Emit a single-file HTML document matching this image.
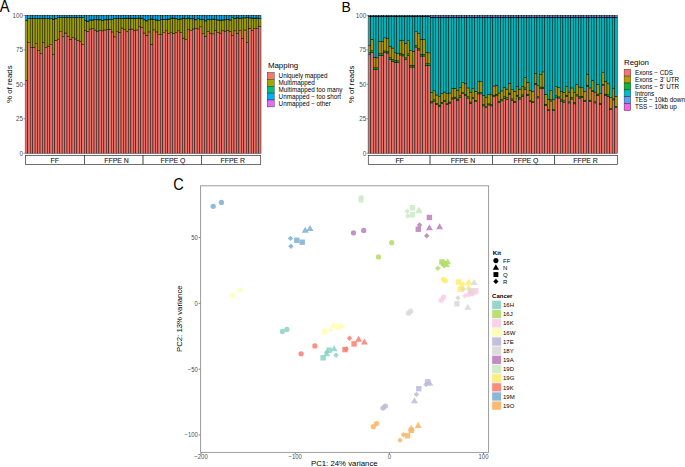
<!DOCTYPE html>
<html><head><meta charset="utf-8"><style>
html,body{margin:0;padding:0;background:#fff;}
svg{display:block;font-family:"Liberation Sans", sans-serif;}
</style></head><body>
<svg width="685" height="467" viewBox="0 0 685 467">
<rect width="685" height="467" fill="#fff"/>
<g stroke="#000" stroke-width="0.45">
<rect x="25.30" y="80.30" width="2.455" height="72.90" fill="#EC7068"/>
<rect x="25.30" y="20.36" width="2.455" height="59.94" fill="#9B9D00"/>
<rect x="25.30" y="20.15" width="2.455" height="0.21" fill="#00B577"/>
<rect x="25.30" y="15.40" width="2.455" height="4.75" fill="#00A7EA"/>
<rect x="27.76" y="42.55" width="2.455" height="110.65" fill="#EC7068"/>
<rect x="27.76" y="18.71" width="2.455" height="23.84" fill="#9B9D00"/>
<rect x="27.76" y="18.50" width="2.455" height="0.21" fill="#00B577"/>
<rect x="27.76" y="15.40" width="2.455" height="3.10" fill="#00A7EA"/>
<rect x="30.21" y="47.65" width="2.455" height="105.55" fill="#EC7068"/>
<rect x="30.21" y="18.71" width="2.455" height="28.94" fill="#9B9D00"/>
<rect x="30.21" y="18.50" width="2.455" height="0.21" fill="#00B577"/>
<rect x="30.21" y="15.40" width="2.455" height="3.10" fill="#00A7EA"/>
<rect x="32.67" y="47.37" width="2.455" height="105.83" fill="#EC7068"/>
<rect x="32.67" y="18.71" width="2.455" height="28.66" fill="#9B9D00"/>
<rect x="32.67" y="18.50" width="2.455" height="0.21" fill="#00B577"/>
<rect x="32.67" y="15.40" width="2.455" height="3.10" fill="#00A7EA"/>
<rect x="35.12" y="43.51" width="2.455" height="109.69" fill="#EC7068"/>
<rect x="35.12" y="18.71" width="2.455" height="24.80" fill="#9B9D00"/>
<rect x="35.12" y="18.50" width="2.455" height="0.21" fill="#00B577"/>
<rect x="35.12" y="15.40" width="2.455" height="3.10" fill="#00A7EA"/>
<rect x="37.58" y="50.54" width="2.455" height="102.66" fill="#EC7068"/>
<rect x="37.58" y="18.71" width="2.455" height="31.83" fill="#9B9D00"/>
<rect x="37.58" y="18.50" width="2.455" height="0.21" fill="#00B577"/>
<rect x="37.58" y="15.40" width="2.455" height="3.10" fill="#00A7EA"/>
<rect x="40.03" y="53.43" width="2.455" height="99.77" fill="#EC7068"/>
<rect x="40.03" y="18.71" width="2.455" height="34.73" fill="#9B9D00"/>
<rect x="40.03" y="18.50" width="2.455" height="0.21" fill="#00B577"/>
<rect x="40.03" y="15.40" width="2.455" height="3.10" fill="#00A7EA"/>
<rect x="42.49" y="42.55" width="2.455" height="110.65" fill="#EC7068"/>
<rect x="42.49" y="18.71" width="2.455" height="23.84" fill="#9B9D00"/>
<rect x="42.49" y="18.50" width="2.455" height="0.21" fill="#00B577"/>
<rect x="42.49" y="15.40" width="2.455" height="3.10" fill="#00A7EA"/>
<rect x="44.94" y="47.65" width="2.455" height="105.55" fill="#EC7068"/>
<rect x="44.94" y="18.71" width="2.455" height="28.94" fill="#9B9D00"/>
<rect x="44.94" y="18.50" width="2.455" height="0.21" fill="#00B577"/>
<rect x="44.94" y="15.40" width="2.455" height="3.10" fill="#00A7EA"/>
<rect x="47.40" y="46.13" width="2.455" height="107.07" fill="#EC7068"/>
<rect x="47.40" y="18.71" width="2.455" height="27.42" fill="#9B9D00"/>
<rect x="47.40" y="18.50" width="2.455" height="0.21" fill="#00B577"/>
<rect x="47.40" y="15.40" width="2.455" height="3.10" fill="#00A7EA"/>
<rect x="49.85" y="44.75" width="2.455" height="108.45" fill="#EC7068"/>
<rect x="49.85" y="18.71" width="2.455" height="26.04" fill="#9B9D00"/>
<rect x="49.85" y="18.50" width="2.455" height="0.21" fill="#00B577"/>
<rect x="49.85" y="15.40" width="2.455" height="3.10" fill="#00A7EA"/>
<rect x="52.31" y="54.26" width="2.455" height="98.94" fill="#EC7068"/>
<rect x="52.31" y="19.26" width="2.455" height="35.00" fill="#9B9D00"/>
<rect x="52.31" y="19.05" width="2.455" height="0.21" fill="#00B577"/>
<rect x="52.31" y="15.40" width="2.455" height="3.65" fill="#00A7EA"/>
<rect x="54.76" y="40.34" width="2.455" height="112.86" fill="#EC7068"/>
<rect x="54.76" y="18.84" width="2.455" height="21.50" fill="#9B9D00"/>
<rect x="54.76" y="18.64" width="2.455" height="0.21" fill="#00B577"/>
<rect x="54.76" y="15.40" width="2.455" height="3.24" fill="#00A7EA"/>
<rect x="57.22" y="39.38" width="2.455" height="113.82" fill="#EC7068"/>
<rect x="57.22" y="17.60" width="2.455" height="21.77" fill="#9B9D00"/>
<rect x="57.22" y="17.40" width="2.455" height="0.21" fill="#00B577"/>
<rect x="57.22" y="15.40" width="2.455" height="2.00" fill="#00A7EA"/>
<rect x="59.67" y="31.66" width="2.455" height="121.54" fill="#EC7068"/>
<rect x="59.67" y="17.60" width="2.455" height="14.06" fill="#9B9D00"/>
<rect x="59.67" y="17.40" width="2.455" height="0.21" fill="#00B577"/>
<rect x="59.67" y="15.40" width="2.455" height="2.00" fill="#00A7EA"/>
<rect x="62.13" y="36.48" width="2.455" height="116.72" fill="#EC7068"/>
<rect x="62.13" y="17.60" width="2.455" height="18.88" fill="#9B9D00"/>
<rect x="62.13" y="17.40" width="2.455" height="0.21" fill="#00B577"/>
<rect x="62.13" y="15.40" width="2.455" height="2.00" fill="#00A7EA"/>
<rect x="64.58" y="33.04" width="2.455" height="120.16" fill="#EC7068"/>
<rect x="64.58" y="17.60" width="2.455" height="15.43" fill="#9B9D00"/>
<rect x="64.58" y="17.40" width="2.455" height="0.21" fill="#00B577"/>
<rect x="64.58" y="15.40" width="2.455" height="2.00" fill="#00A7EA"/>
<rect x="67.04" y="36.21" width="2.455" height="116.99" fill="#EC7068"/>
<rect x="67.04" y="17.60" width="2.455" height="18.60" fill="#9B9D00"/>
<rect x="67.04" y="17.40" width="2.455" height="0.21" fill="#00B577"/>
<rect x="67.04" y="15.40" width="2.455" height="2.00" fill="#00A7EA"/>
<rect x="69.49" y="39.24" width="2.455" height="113.96" fill="#EC7068"/>
<rect x="69.49" y="17.60" width="2.455" height="21.63" fill="#9B9D00"/>
<rect x="69.49" y="17.40" width="2.455" height="0.21" fill="#00B577"/>
<rect x="69.49" y="15.40" width="2.455" height="2.00" fill="#00A7EA"/>
<rect x="71.95" y="37.31" width="2.455" height="115.89" fill="#EC7068"/>
<rect x="71.95" y="17.60" width="2.455" height="19.71" fill="#9B9D00"/>
<rect x="71.95" y="17.40" width="2.455" height="0.21" fill="#00B577"/>
<rect x="71.95" y="15.40" width="2.455" height="2.00" fill="#00A7EA"/>
<rect x="74.40" y="38.96" width="2.455" height="114.24" fill="#EC7068"/>
<rect x="74.40" y="17.60" width="2.455" height="21.36" fill="#9B9D00"/>
<rect x="74.40" y="17.40" width="2.455" height="0.21" fill="#00B577"/>
<rect x="74.40" y="15.40" width="2.455" height="2.00" fill="#00A7EA"/>
<rect x="76.86" y="40.34" width="2.455" height="112.86" fill="#EC7068"/>
<rect x="76.86" y="17.60" width="2.455" height="22.74" fill="#9B9D00"/>
<rect x="76.86" y="17.40" width="2.455" height="0.21" fill="#00B577"/>
<rect x="76.86" y="15.40" width="2.455" height="2.00" fill="#00A7EA"/>
<rect x="79.31" y="41.31" width="2.455" height="111.89" fill="#EC7068"/>
<rect x="79.31" y="17.60" width="2.455" height="23.70" fill="#9B9D00"/>
<rect x="79.31" y="17.40" width="2.455" height="0.21" fill="#00B577"/>
<rect x="79.31" y="15.40" width="2.455" height="2.00" fill="#00A7EA"/>
<rect x="81.77" y="44.48" width="2.455" height="108.72" fill="#EC7068"/>
<rect x="81.77" y="17.60" width="2.455" height="26.87" fill="#9B9D00"/>
<rect x="81.77" y="17.40" width="2.455" height="0.21" fill="#00B577"/>
<rect x="81.77" y="15.40" width="2.455" height="2.00" fill="#00A7EA"/>
<rect x="84.22" y="30.42" width="2.455" height="122.78" fill="#EC7068"/>
<rect x="84.22" y="20.76" width="2.455" height="9.66" fill="#9B9D00"/>
<rect x="84.22" y="20.55" width="2.455" height="0.21" fill="#00B577"/>
<rect x="84.22" y="15.40" width="2.455" height="5.15" fill="#00A7EA"/>
<rect x="86.68" y="31.38" width="2.455" height="121.82" fill="#EC7068"/>
<rect x="86.68" y="21.19" width="2.455" height="10.19" fill="#9B9D00"/>
<rect x="86.68" y="20.99" width="2.455" height="0.21" fill="#00B577"/>
<rect x="86.68" y="15.40" width="2.455" height="5.59" fill="#00A7EA"/>
<rect x="89.14" y="29.04" width="2.455" height="124.16" fill="#EC7068"/>
<rect x="89.14" y="20.06" width="2.455" height="8.99" fill="#9B9D00"/>
<rect x="89.14" y="19.85" width="2.455" height="0.21" fill="#00B577"/>
<rect x="89.14" y="15.40" width="2.455" height="4.45" fill="#00A7EA"/>
<rect x="91.59" y="28.77" width="2.455" height="124.43" fill="#EC7068"/>
<rect x="91.59" y="20.06" width="2.455" height="8.71" fill="#9B9D00"/>
<rect x="91.59" y="19.85" width="2.455" height="0.21" fill="#00B577"/>
<rect x="91.59" y="15.40" width="2.455" height="4.45" fill="#00A7EA"/>
<rect x="94.05" y="30.01" width="2.455" height="123.19" fill="#EC7068"/>
<rect x="94.05" y="19.71" width="2.455" height="10.30" fill="#9B9D00"/>
<rect x="94.05" y="19.50" width="2.455" height="0.21" fill="#00B577"/>
<rect x="94.05" y="15.40" width="2.455" height="4.10" fill="#00A7EA"/>
<rect x="96.50" y="31.11" width="2.455" height="122.09" fill="#EC7068"/>
<rect x="96.50" y="19.88" width="2.455" height="11.23" fill="#9B9D00"/>
<rect x="96.50" y="19.67" width="2.455" height="0.21" fill="#00B577"/>
<rect x="96.50" y="15.40" width="2.455" height="4.27" fill="#00A7EA"/>
<rect x="98.96" y="30.56" width="2.455" height="122.64" fill="#EC7068"/>
<rect x="98.96" y="19.88" width="2.455" height="10.68" fill="#9B9D00"/>
<rect x="98.96" y="19.67" width="2.455" height="0.21" fill="#00B577"/>
<rect x="98.96" y="15.40" width="2.455" height="4.27" fill="#00A7EA"/>
<rect x="101.41" y="30.83" width="2.455" height="122.37" fill="#EC7068"/>
<rect x="101.41" y="20.76" width="2.455" height="10.08" fill="#9B9D00"/>
<rect x="101.41" y="20.55" width="2.455" height="0.21" fill="#00B577"/>
<rect x="101.41" y="15.40" width="2.455" height="5.15" fill="#00A7EA"/>
<rect x="103.87" y="30.01" width="2.455" height="123.19" fill="#EC7068"/>
<rect x="103.87" y="19.88" width="2.455" height="10.13" fill="#9B9D00"/>
<rect x="103.87" y="19.67" width="2.455" height="0.21" fill="#00B577"/>
<rect x="103.87" y="15.40" width="2.455" height="4.27" fill="#00A7EA"/>
<rect x="106.32" y="29.46" width="2.455" height="123.74" fill="#EC7068"/>
<rect x="106.32" y="19.88" width="2.455" height="9.57" fill="#9B9D00"/>
<rect x="106.32" y="19.67" width="2.455" height="0.21" fill="#00B577"/>
<rect x="106.32" y="15.40" width="2.455" height="4.27" fill="#00A7EA"/>
<rect x="108.78" y="29.46" width="2.455" height="123.74" fill="#EC7068"/>
<rect x="108.78" y="19.44" width="2.455" height="10.01" fill="#9B9D00"/>
<rect x="108.78" y="19.24" width="2.455" height="0.21" fill="#00B577"/>
<rect x="108.78" y="15.40" width="2.455" height="3.84" fill="#00A7EA"/>
<rect x="111.23" y="31.94" width="2.455" height="121.26" fill="#EC7068"/>
<rect x="111.23" y="19.71" width="2.455" height="12.23" fill="#9B9D00"/>
<rect x="111.23" y="19.50" width="2.455" height="0.21" fill="#00B577"/>
<rect x="111.23" y="15.40" width="2.455" height="4.10" fill="#00A7EA"/>
<rect x="113.69" y="36.90" width="2.455" height="116.30" fill="#EC7068"/>
<rect x="113.69" y="18.57" width="2.455" height="18.33" fill="#9B9D00"/>
<rect x="113.69" y="18.36" width="2.455" height="0.21" fill="#00B577"/>
<rect x="113.69" y="15.40" width="2.455" height="2.96" fill="#00A7EA"/>
<rect x="116.14" y="31.66" width="2.455" height="121.54" fill="#EC7068"/>
<rect x="116.14" y="18.57" width="2.455" height="13.09" fill="#9B9D00"/>
<rect x="116.14" y="18.36" width="2.455" height="0.21" fill="#00B577"/>
<rect x="116.14" y="15.40" width="2.455" height="2.96" fill="#00A7EA"/>
<rect x="118.60" y="32.35" width="2.455" height="120.85" fill="#EC7068"/>
<rect x="118.60" y="18.57" width="2.455" height="13.78" fill="#9B9D00"/>
<rect x="118.60" y="18.36" width="2.455" height="0.21" fill="#00B577"/>
<rect x="118.60" y="15.40" width="2.455" height="2.96" fill="#00A7EA"/>
<rect x="121.05" y="28.08" width="2.455" height="125.12" fill="#EC7068"/>
<rect x="121.05" y="18.57" width="2.455" height="9.51" fill="#9B9D00"/>
<rect x="121.05" y="18.36" width="2.455" height="0.21" fill="#00B577"/>
<rect x="121.05" y="15.40" width="2.455" height="2.96" fill="#00A7EA"/>
<rect x="123.51" y="29.73" width="2.455" height="123.47" fill="#EC7068"/>
<rect x="123.51" y="18.30" width="2.455" height="11.43" fill="#9B9D00"/>
<rect x="123.51" y="18.10" width="2.455" height="0.21" fill="#00B577"/>
<rect x="123.51" y="15.40" width="2.455" height="2.70" fill="#00A7EA"/>
<rect x="125.96" y="31.66" width="2.455" height="121.54" fill="#EC7068"/>
<rect x="125.96" y="18.30" width="2.455" height="13.36" fill="#9B9D00"/>
<rect x="125.96" y="18.10" width="2.455" height="0.21" fill="#00B577"/>
<rect x="125.96" y="15.40" width="2.455" height="2.70" fill="#00A7EA"/>
<rect x="128.42" y="29.46" width="2.455" height="123.74" fill="#EC7068"/>
<rect x="128.42" y="18.30" width="2.455" height="11.15" fill="#9B9D00"/>
<rect x="128.42" y="18.10" width="2.455" height="0.21" fill="#00B577"/>
<rect x="128.42" y="15.40" width="2.455" height="2.70" fill="#00A7EA"/>
<rect x="130.87" y="29.04" width="2.455" height="124.16" fill="#EC7068"/>
<rect x="130.87" y="18.30" width="2.455" height="10.74" fill="#9B9D00"/>
<rect x="130.87" y="18.10" width="2.455" height="0.21" fill="#00B577"/>
<rect x="130.87" y="15.40" width="2.455" height="2.70" fill="#00A7EA"/>
<rect x="133.33" y="30.56" width="2.455" height="122.64" fill="#EC7068"/>
<rect x="133.33" y="18.30" width="2.455" height="12.25" fill="#9B9D00"/>
<rect x="133.33" y="18.10" width="2.455" height="0.21" fill="#00B577"/>
<rect x="133.33" y="15.40" width="2.455" height="2.70" fill="#00A7EA"/>
<rect x="135.78" y="30.01" width="2.455" height="123.19" fill="#EC7068"/>
<rect x="135.78" y="18.30" width="2.455" height="11.70" fill="#9B9D00"/>
<rect x="135.78" y="18.10" width="2.455" height="0.21" fill="#00B577"/>
<rect x="135.78" y="15.40" width="2.455" height="2.70" fill="#00A7EA"/>
<rect x="138.24" y="26.70" width="2.455" height="126.50" fill="#EC7068"/>
<rect x="138.24" y="18.30" width="2.455" height="8.39" fill="#9B9D00"/>
<rect x="138.24" y="18.10" width="2.455" height="0.21" fill="#00B577"/>
<rect x="138.24" y="15.40" width="2.455" height="2.70" fill="#00A7EA"/>
<rect x="140.69" y="27.25" width="2.455" height="125.95" fill="#EC7068"/>
<rect x="140.69" y="18.30" width="2.455" height="8.95" fill="#9B9D00"/>
<rect x="140.69" y="18.10" width="2.455" height="0.21" fill="#00B577"/>
<rect x="140.69" y="15.40" width="2.455" height="2.70" fill="#00A7EA"/>
<rect x="143.15" y="33.04" width="2.455" height="120.16" fill="#EC7068"/>
<rect x="143.15" y="19.88" width="2.455" height="13.16" fill="#9B9D00"/>
<rect x="143.15" y="19.67" width="2.455" height="0.21" fill="#00B577"/>
<rect x="143.15" y="15.40" width="2.455" height="4.27" fill="#00A7EA"/>
<rect x="145.61" y="35.24" width="2.455" height="117.96" fill="#EC7068"/>
<rect x="145.61" y="20.93" width="2.455" height="14.31" fill="#9B9D00"/>
<rect x="145.61" y="20.72" width="2.455" height="0.21" fill="#00B577"/>
<rect x="145.61" y="15.40" width="2.455" height="5.32" fill="#00A7EA"/>
<rect x="148.06" y="31.94" width="2.455" height="121.26" fill="#EC7068"/>
<rect x="148.06" y="19.71" width="2.455" height="12.23" fill="#9B9D00"/>
<rect x="148.06" y="19.50" width="2.455" height="0.21" fill="#00B577"/>
<rect x="148.06" y="15.40" width="2.455" height="4.10" fill="#00A7EA"/>
<rect x="150.52" y="44.34" width="2.455" height="108.86" fill="#EC7068"/>
<rect x="150.52" y="19.18" width="2.455" height="25.16" fill="#9B9D00"/>
<rect x="150.52" y="18.97" width="2.455" height="0.21" fill="#00B577"/>
<rect x="150.52" y="15.40" width="2.455" height="3.57" fill="#00A7EA"/>
<rect x="152.97" y="29.87" width="2.455" height="123.33" fill="#EC7068"/>
<rect x="152.97" y="19.71" width="2.455" height="10.16" fill="#9B9D00"/>
<rect x="152.97" y="19.50" width="2.455" height="0.21" fill="#00B577"/>
<rect x="152.97" y="15.40" width="2.455" height="4.10" fill="#00A7EA"/>
<rect x="155.43" y="31.94" width="2.455" height="121.26" fill="#EC7068"/>
<rect x="155.43" y="20.06" width="2.455" height="11.88" fill="#9B9D00"/>
<rect x="155.43" y="19.85" width="2.455" height="0.21" fill="#00B577"/>
<rect x="155.43" y="15.40" width="2.455" height="4.45" fill="#00A7EA"/>
<rect x="157.88" y="34.69" width="2.455" height="118.51" fill="#EC7068"/>
<rect x="157.88" y="20.76" width="2.455" height="13.94" fill="#9B9D00"/>
<rect x="157.88" y="20.55" width="2.455" height="0.21" fill="#00B577"/>
<rect x="157.88" y="15.40" width="2.455" height="5.15" fill="#00A7EA"/>
<rect x="160.34" y="34.69" width="2.455" height="118.51" fill="#EC7068"/>
<rect x="160.34" y="19.71" width="2.455" height="14.99" fill="#9B9D00"/>
<rect x="160.34" y="19.50" width="2.455" height="0.21" fill="#00B577"/>
<rect x="160.34" y="15.40" width="2.455" height="4.10" fill="#00A7EA"/>
<rect x="162.79" y="32.76" width="2.455" height="120.44" fill="#EC7068"/>
<rect x="162.79" y="19.44" width="2.455" height="13.32" fill="#9B9D00"/>
<rect x="162.79" y="19.24" width="2.455" height="0.21" fill="#00B577"/>
<rect x="162.79" y="15.40" width="2.455" height="3.84" fill="#00A7EA"/>
<rect x="165.25" y="30.83" width="2.455" height="122.37" fill="#EC7068"/>
<rect x="165.25" y="19.71" width="2.455" height="11.13" fill="#9B9D00"/>
<rect x="165.25" y="19.50" width="2.455" height="0.21" fill="#00B577"/>
<rect x="165.25" y="15.40" width="2.455" height="4.10" fill="#00A7EA"/>
<rect x="167.70" y="33.45" width="2.455" height="119.75" fill="#EC7068"/>
<rect x="167.70" y="19.18" width="2.455" height="14.27" fill="#9B9D00"/>
<rect x="167.70" y="18.97" width="2.455" height="0.21" fill="#00B577"/>
<rect x="167.70" y="15.40" width="2.455" height="3.57" fill="#00A7EA"/>
<rect x="170.16" y="32.76" width="2.455" height="120.44" fill="#EC7068"/>
<rect x="170.16" y="18.30" width="2.455" height="14.46" fill="#9B9D00"/>
<rect x="170.16" y="18.10" width="2.455" height="0.21" fill="#00B577"/>
<rect x="170.16" y="15.40" width="2.455" height="2.70" fill="#00A7EA"/>
<rect x="172.61" y="33.45" width="2.455" height="119.75" fill="#EC7068"/>
<rect x="172.61" y="18.30" width="2.455" height="15.15" fill="#9B9D00"/>
<rect x="172.61" y="18.10" width="2.455" height="0.21" fill="#00B577"/>
<rect x="172.61" y="15.40" width="2.455" height="2.70" fill="#00A7EA"/>
<rect x="175.07" y="32.49" width="2.455" height="120.71" fill="#EC7068"/>
<rect x="175.07" y="18.83" width="2.455" height="13.66" fill="#9B9D00"/>
<rect x="175.07" y="18.62" width="2.455" height="0.21" fill="#00B577"/>
<rect x="175.07" y="15.40" width="2.455" height="3.22" fill="#00A7EA"/>
<rect x="177.52" y="30.83" width="2.455" height="122.37" fill="#EC7068"/>
<rect x="177.52" y="19.44" width="2.455" height="11.39" fill="#9B9D00"/>
<rect x="177.52" y="19.24" width="2.455" height="0.21" fill="#00B577"/>
<rect x="177.52" y="15.40" width="2.455" height="3.84" fill="#00A7EA"/>
<rect x="179.98" y="32.49" width="2.455" height="120.71" fill="#EC7068"/>
<rect x="179.98" y="19.01" width="2.455" height="13.48" fill="#9B9D00"/>
<rect x="179.98" y="18.80" width="2.455" height="0.21" fill="#00B577"/>
<rect x="179.98" y="15.40" width="2.455" height="3.40" fill="#00A7EA"/>
<rect x="182.43" y="38.14" width="2.455" height="115.06" fill="#EC7068"/>
<rect x="182.43" y="18.30" width="2.455" height="19.83" fill="#9B9D00"/>
<rect x="182.43" y="18.10" width="2.455" height="0.21" fill="#00B577"/>
<rect x="182.43" y="15.40" width="2.455" height="2.70" fill="#00A7EA"/>
<rect x="184.89" y="39.79" width="2.455" height="113.41" fill="#EC7068"/>
<rect x="184.89" y="18.83" width="2.455" height="20.96" fill="#9B9D00"/>
<rect x="184.89" y="18.62" width="2.455" height="0.21" fill="#00B577"/>
<rect x="184.89" y="15.40" width="2.455" height="3.22" fill="#00A7EA"/>
<rect x="187.34" y="29.46" width="2.455" height="123.74" fill="#EC7068"/>
<rect x="187.34" y="18.13" width="2.455" height="11.33" fill="#9B9D00"/>
<rect x="187.34" y="17.92" width="2.455" height="0.21" fill="#00B577"/>
<rect x="187.34" y="15.40" width="2.455" height="2.52" fill="#00A7EA"/>
<rect x="189.80" y="30.56" width="2.455" height="122.64" fill="#EC7068"/>
<rect x="189.80" y="18.83" width="2.455" height="11.73" fill="#9B9D00"/>
<rect x="189.80" y="18.62" width="2.455" height="0.21" fill="#00B577"/>
<rect x="189.80" y="15.40" width="2.455" height="3.22" fill="#00A7EA"/>
<rect x="192.25" y="29.04" width="2.455" height="124.16" fill="#EC7068"/>
<rect x="192.25" y="18.83" width="2.455" height="10.21" fill="#9B9D00"/>
<rect x="192.25" y="18.62" width="2.455" height="0.21" fill="#00B577"/>
<rect x="192.25" y="15.40" width="2.455" height="3.22" fill="#00A7EA"/>
<rect x="194.71" y="28.49" width="2.455" height="124.71" fill="#EC7068"/>
<rect x="194.71" y="19.88" width="2.455" height="8.61" fill="#9B9D00"/>
<rect x="194.71" y="19.67" width="2.455" height="0.21" fill="#00B577"/>
<rect x="194.71" y="15.40" width="2.455" height="4.27" fill="#00A7EA"/>
<rect x="197.16" y="28.90" width="2.455" height="124.30" fill="#EC7068"/>
<rect x="197.16" y="18.30" width="2.455" height="10.60" fill="#9B9D00"/>
<rect x="197.16" y="18.10" width="2.455" height="0.21" fill="#00B577"/>
<rect x="197.16" y="15.40" width="2.455" height="2.70" fill="#00A7EA"/>
<rect x="199.62" y="26.84" width="2.455" height="126.36" fill="#EC7068"/>
<rect x="199.62" y="19.71" width="2.455" height="7.13" fill="#9B9D00"/>
<rect x="199.62" y="19.50" width="2.455" height="0.21" fill="#00B577"/>
<rect x="199.62" y="15.40" width="2.455" height="4.10" fill="#00A7EA"/>
<rect x="202.07" y="33.45" width="2.455" height="119.75" fill="#EC7068"/>
<rect x="202.07" y="19.71" width="2.455" height="13.75" fill="#9B9D00"/>
<rect x="202.07" y="19.50" width="2.455" height="0.21" fill="#00B577"/>
<rect x="202.07" y="15.40" width="2.455" height="4.10" fill="#00A7EA"/>
<rect x="204.53" y="36.48" width="2.455" height="116.72" fill="#EC7068"/>
<rect x="204.53" y="20.93" width="2.455" height="15.55" fill="#9B9D00"/>
<rect x="204.53" y="20.72" width="2.455" height="0.21" fill="#00B577"/>
<rect x="204.53" y="15.40" width="2.455" height="5.32" fill="#00A7EA"/>
<rect x="206.99" y="31.38" width="2.455" height="121.82" fill="#EC7068"/>
<rect x="206.99" y="19.44" width="2.455" height="11.94" fill="#9B9D00"/>
<rect x="206.99" y="19.24" width="2.455" height="0.21" fill="#00B577"/>
<rect x="206.99" y="15.40" width="2.455" height="3.84" fill="#00A7EA"/>
<rect x="209.44" y="33.45" width="2.455" height="119.75" fill="#EC7068"/>
<rect x="209.44" y="19.71" width="2.455" height="13.75" fill="#9B9D00"/>
<rect x="209.44" y="19.50" width="2.455" height="0.21" fill="#00B577"/>
<rect x="209.44" y="15.40" width="2.455" height="4.10" fill="#00A7EA"/>
<rect x="211.90" y="33.87" width="2.455" height="119.33" fill="#EC7068"/>
<rect x="211.90" y="19.18" width="2.455" height="14.68" fill="#9B9D00"/>
<rect x="211.90" y="18.97" width="2.455" height="0.21" fill="#00B577"/>
<rect x="211.90" y="15.40" width="2.455" height="3.57" fill="#00A7EA"/>
<rect x="214.35" y="30.42" width="2.455" height="122.78" fill="#EC7068"/>
<rect x="214.35" y="19.71" width="2.455" height="10.71" fill="#9B9D00"/>
<rect x="214.35" y="19.50" width="2.455" height="0.21" fill="#00B577"/>
<rect x="214.35" y="15.40" width="2.455" height="4.10" fill="#00A7EA"/>
<rect x="216.81" y="32.62" width="2.455" height="120.57" fill="#EC7068"/>
<rect x="216.81" y="20.06" width="2.455" height="12.57" fill="#9B9D00"/>
<rect x="216.81" y="19.85" width="2.455" height="0.21" fill="#00B577"/>
<rect x="216.81" y="15.40" width="2.455" height="4.45" fill="#00A7EA"/>
<rect x="219.26" y="33.04" width="2.455" height="120.16" fill="#EC7068"/>
<rect x="219.26" y="20.32" width="2.455" height="12.72" fill="#9B9D00"/>
<rect x="219.26" y="20.11" width="2.455" height="0.21" fill="#00B577"/>
<rect x="219.26" y="15.40" width="2.455" height="4.71" fill="#00A7EA"/>
<rect x="221.72" y="30.83" width="2.455" height="122.37" fill="#EC7068"/>
<rect x="221.72" y="20.06" width="2.455" height="10.78" fill="#9B9D00"/>
<rect x="221.72" y="19.85" width="2.455" height="0.21" fill="#00B577"/>
<rect x="221.72" y="15.40" width="2.455" height="4.45" fill="#00A7EA"/>
<rect x="224.17" y="31.11" width="2.455" height="122.09" fill="#EC7068"/>
<rect x="224.17" y="19.88" width="2.455" height="11.23" fill="#9B9D00"/>
<rect x="224.17" y="19.67" width="2.455" height="0.21" fill="#00B577"/>
<rect x="224.17" y="15.40" width="2.455" height="4.27" fill="#00A7EA"/>
<rect x="226.63" y="30.56" width="2.455" height="122.64" fill="#EC7068"/>
<rect x="226.63" y="19.44" width="2.455" height="11.11" fill="#9B9D00"/>
<rect x="226.63" y="19.24" width="2.455" height="0.21" fill="#00B577"/>
<rect x="226.63" y="15.40" width="2.455" height="3.84" fill="#00A7EA"/>
<rect x="229.08" y="31.38" width="2.455" height="121.82" fill="#EC7068"/>
<rect x="229.08" y="20.06" width="2.455" height="11.33" fill="#9B9D00"/>
<rect x="229.08" y="19.85" width="2.455" height="0.21" fill="#00B577"/>
<rect x="229.08" y="15.40" width="2.455" height="4.45" fill="#00A7EA"/>
<rect x="231.54" y="35.52" width="2.455" height="117.68" fill="#EC7068"/>
<rect x="231.54" y="17.69" width="2.455" height="17.83" fill="#9B9D00"/>
<rect x="231.54" y="17.49" width="2.455" height="0.21" fill="#00B577"/>
<rect x="231.54" y="15.40" width="2.455" height="2.09" fill="#00A7EA"/>
<rect x="233.99" y="30.83" width="2.455" height="122.37" fill="#EC7068"/>
<rect x="233.99" y="18.30" width="2.455" height="12.53" fill="#9B9D00"/>
<rect x="233.99" y="18.10" width="2.455" height="0.21" fill="#00B577"/>
<rect x="233.99" y="15.40" width="2.455" height="2.70" fill="#00A7EA"/>
<rect x="236.45" y="33.45" width="2.455" height="119.75" fill="#EC7068"/>
<rect x="236.45" y="17.95" width="2.455" height="15.50" fill="#9B9D00"/>
<rect x="236.45" y="17.75" width="2.455" height="0.21" fill="#00B577"/>
<rect x="236.45" y="15.40" width="2.455" height="2.35" fill="#00A7EA"/>
<rect x="238.90" y="30.56" width="2.455" height="122.64" fill="#EC7068"/>
<rect x="238.90" y="18.30" width="2.455" height="12.25" fill="#9B9D00"/>
<rect x="238.90" y="18.10" width="2.455" height="0.21" fill="#00B577"/>
<rect x="238.90" y="15.40" width="2.455" height="2.70" fill="#00A7EA"/>
<rect x="241.36" y="38.27" width="2.455" height="114.93" fill="#EC7068"/>
<rect x="241.36" y="17.95" width="2.455" height="20.32" fill="#9B9D00"/>
<rect x="241.36" y="17.75" width="2.455" height="0.21" fill="#00B577"/>
<rect x="241.36" y="15.40" width="2.455" height="2.35" fill="#00A7EA"/>
<rect x="243.81" y="30.01" width="2.455" height="123.19" fill="#EC7068"/>
<rect x="243.81" y="17.95" width="2.455" height="12.05" fill="#9B9D00"/>
<rect x="243.81" y="17.75" width="2.455" height="0.21" fill="#00B577"/>
<rect x="243.81" y="15.40" width="2.455" height="2.35" fill="#00A7EA"/>
<rect x="246.27" y="42.55" width="2.455" height="110.65" fill="#EC7068"/>
<rect x="246.27" y="17.69" width="2.455" height="24.85" fill="#9B9D00"/>
<rect x="246.27" y="17.49" width="2.455" height="0.21" fill="#00B577"/>
<rect x="246.27" y="15.40" width="2.455" height="2.09" fill="#00A7EA"/>
<rect x="248.72" y="28.22" width="2.455" height="124.98" fill="#EC7068"/>
<rect x="248.72" y="17.95" width="2.455" height="10.26" fill="#9B9D00"/>
<rect x="248.72" y="17.75" width="2.455" height="0.21" fill="#00B577"/>
<rect x="248.72" y="15.40" width="2.455" height="2.35" fill="#00A7EA"/>
<rect x="251.18" y="30.42" width="2.455" height="122.78" fill="#EC7068"/>
<rect x="251.18" y="18.13" width="2.455" height="12.29" fill="#9B9D00"/>
<rect x="251.18" y="17.92" width="2.455" height="0.21" fill="#00B577"/>
<rect x="251.18" y="15.40" width="2.455" height="2.52" fill="#00A7EA"/>
<rect x="253.63" y="28.63" width="2.455" height="124.57" fill="#EC7068"/>
<rect x="253.63" y="18.30" width="2.455" height="10.32" fill="#9B9D00"/>
<rect x="253.63" y="18.10" width="2.455" height="0.21" fill="#00B577"/>
<rect x="253.63" y="15.40" width="2.455" height="2.70" fill="#00A7EA"/>
<rect x="256.09" y="28.49" width="2.455" height="124.71" fill="#EC7068"/>
<rect x="256.09" y="18.13" width="2.455" height="10.36" fill="#9B9D00"/>
<rect x="256.09" y="17.92" width="2.455" height="0.21" fill="#00B577"/>
<rect x="256.09" y="15.40" width="2.455" height="2.52" fill="#00A7EA"/>
<rect x="258.54" y="26.42" width="2.455" height="126.78" fill="#EC7068"/>
<rect x="258.54" y="18.57" width="2.455" height="7.86" fill="#9B9D00"/>
<rect x="258.54" y="18.36" width="2.455" height="0.21" fill="#00B577"/>
<rect x="258.54" y="15.40" width="2.455" height="2.96" fill="#00A7EA"/>
</g>
<g stroke="#000" stroke-width="0.45">
<rect x="368.20" y="54.54" width="2.596" height="98.66" fill="#EC7068"/>
<rect x="368.20" y="52.74" width="2.596" height="1.79" fill="#00B135"/>
<rect x="368.20" y="45.16" width="2.596" height="7.58" fill="#AE9700"/>
<rect x="368.20" y="16.78" width="2.596" height="28.39" fill="#00B5BA"/>
<rect x="368.20" y="16.23" width="2.596" height="0.55" fill="#E95FD8"/>
<rect x="368.20" y="15.40" width="2.596" height="0.83" fill="#5C94F2"/>
<rect x="370.80" y="52.33" width="2.596" height="100.87" fill="#EC7068"/>
<rect x="370.80" y="50.81" width="2.596" height="1.52" fill="#00B135"/>
<rect x="370.80" y="39.24" width="2.596" height="11.58" fill="#AE9700"/>
<rect x="370.80" y="16.78" width="2.596" height="22.46" fill="#00B5BA"/>
<rect x="370.80" y="16.23" width="2.596" height="0.55" fill="#E95FD8"/>
<rect x="370.80" y="15.40" width="2.596" height="0.83" fill="#5C94F2"/>
<rect x="373.39" y="69.56" width="2.596" height="83.64" fill="#EC7068"/>
<rect x="373.39" y="67.76" width="2.596" height="1.79" fill="#00B135"/>
<rect x="373.39" y="57.29" width="2.596" height="10.47" fill="#AE9700"/>
<rect x="373.39" y="16.78" width="2.596" height="40.51" fill="#00B5BA"/>
<rect x="373.39" y="16.23" width="2.596" height="0.55" fill="#E95FD8"/>
<rect x="373.39" y="15.40" width="2.596" height="0.83" fill="#5C94F2"/>
<rect x="375.99" y="69.56" width="2.596" height="83.64" fill="#EC7068"/>
<rect x="375.99" y="67.76" width="2.596" height="1.79" fill="#00B135"/>
<rect x="375.99" y="57.84" width="2.596" height="9.92" fill="#AE9700"/>
<rect x="375.99" y="16.78" width="2.596" height="41.06" fill="#00B5BA"/>
<rect x="375.99" y="16.23" width="2.596" height="0.55" fill="#E95FD8"/>
<rect x="375.99" y="15.40" width="2.596" height="0.83" fill="#5C94F2"/>
<rect x="378.58" y="55.36" width="2.596" height="97.84" fill="#EC7068"/>
<rect x="378.58" y="53.71" width="2.596" height="1.65" fill="#00B135"/>
<rect x="378.58" y="41.44" width="2.596" height="12.26" fill="#AE9700"/>
<rect x="378.58" y="16.78" width="2.596" height="24.67" fill="#00B5BA"/>
<rect x="378.58" y="16.23" width="2.596" height="0.55" fill="#E95FD8"/>
<rect x="378.58" y="15.40" width="2.596" height="0.83" fill="#5C94F2"/>
<rect x="381.18" y="55.36" width="2.596" height="97.84" fill="#EC7068"/>
<rect x="381.18" y="53.71" width="2.596" height="1.65" fill="#00B135"/>
<rect x="381.18" y="41.44" width="2.596" height="12.26" fill="#AE9700"/>
<rect x="381.18" y="16.78" width="2.596" height="24.67" fill="#00B5BA"/>
<rect x="381.18" y="16.23" width="2.596" height="0.55" fill="#E95FD8"/>
<rect x="381.18" y="15.40" width="2.596" height="0.83" fill="#5C94F2"/>
<rect x="383.77" y="52.61" width="2.596" height="100.59" fill="#EC7068"/>
<rect x="383.77" y="50.95" width="2.596" height="1.65" fill="#00B135"/>
<rect x="383.77" y="37.86" width="2.596" height="13.09" fill="#AE9700"/>
<rect x="383.77" y="16.78" width="2.596" height="21.08" fill="#00B5BA"/>
<rect x="383.77" y="16.23" width="2.596" height="0.55" fill="#E95FD8"/>
<rect x="383.77" y="15.40" width="2.596" height="0.83" fill="#5C94F2"/>
<rect x="386.37" y="53.02" width="2.596" height="100.18" fill="#EC7068"/>
<rect x="386.37" y="51.50" width="2.596" height="1.52" fill="#00B135"/>
<rect x="386.37" y="38.41" width="2.596" height="13.09" fill="#AE9700"/>
<rect x="386.37" y="16.78" width="2.596" height="21.63" fill="#00B5BA"/>
<rect x="386.37" y="16.23" width="2.596" height="0.55" fill="#E95FD8"/>
<rect x="386.37" y="15.40" width="2.596" height="0.83" fill="#5C94F2"/>
<rect x="388.97" y="59.50" width="2.596" height="93.70" fill="#EC7068"/>
<rect x="388.97" y="57.43" width="2.596" height="2.07" fill="#00B135"/>
<rect x="388.97" y="46.27" width="2.596" height="11.16" fill="#AE9700"/>
<rect x="388.97" y="16.78" width="2.596" height="29.49" fill="#00B5BA"/>
<rect x="388.97" y="16.23" width="2.596" height="0.55" fill="#E95FD8"/>
<rect x="388.97" y="15.40" width="2.596" height="0.83" fill="#5C94F2"/>
<rect x="391.56" y="61.29" width="2.596" height="91.91" fill="#EC7068"/>
<rect x="391.56" y="59.50" width="2.596" height="1.79" fill="#00B135"/>
<rect x="391.56" y="48.06" width="2.596" height="11.44" fill="#AE9700"/>
<rect x="391.56" y="16.78" width="2.596" height="31.28" fill="#00B5BA"/>
<rect x="391.56" y="16.23" width="2.596" height="0.55" fill="#E95FD8"/>
<rect x="391.56" y="15.40" width="2.596" height="0.83" fill="#5C94F2"/>
<rect x="394.16" y="62.25" width="2.596" height="90.95" fill="#EC7068"/>
<rect x="394.16" y="60.46" width="2.596" height="1.79" fill="#00B135"/>
<rect x="394.16" y="52.47" width="2.596" height="7.99" fill="#AE9700"/>
<rect x="394.16" y="16.78" width="2.596" height="35.69" fill="#00B5BA"/>
<rect x="394.16" y="16.23" width="2.596" height="0.55" fill="#E95FD8"/>
<rect x="394.16" y="15.40" width="2.596" height="0.83" fill="#5C94F2"/>
<rect x="396.75" y="62.53" width="2.596" height="90.67" fill="#EC7068"/>
<rect x="396.75" y="60.87" width="2.596" height="1.65" fill="#00B135"/>
<rect x="396.75" y="53.57" width="2.596" height="7.30" fill="#AE9700"/>
<rect x="396.75" y="16.78" width="2.596" height="36.79" fill="#00B5BA"/>
<rect x="396.75" y="16.23" width="2.596" height="0.55" fill="#E95FD8"/>
<rect x="396.75" y="15.40" width="2.596" height="0.83" fill="#5C94F2"/>
<rect x="399.35" y="54.95" width="2.596" height="98.25" fill="#EC7068"/>
<rect x="399.35" y="53.43" width="2.596" height="1.52" fill="#00B135"/>
<rect x="399.35" y="40.48" width="2.596" height="12.95" fill="#AE9700"/>
<rect x="399.35" y="16.78" width="2.596" height="23.70" fill="#00B5BA"/>
<rect x="399.35" y="16.23" width="2.596" height="0.55" fill="#E95FD8"/>
<rect x="399.35" y="15.40" width="2.596" height="0.83" fill="#5C94F2"/>
<rect x="401.95" y="55.91" width="2.596" height="97.29" fill="#EC7068"/>
<rect x="401.95" y="54.26" width="2.596" height="1.65" fill="#00B135"/>
<rect x="401.95" y="40.76" width="2.596" height="13.50" fill="#AE9700"/>
<rect x="401.95" y="16.78" width="2.596" height="23.98" fill="#00B5BA"/>
<rect x="401.95" y="16.23" width="2.596" height="0.55" fill="#E95FD8"/>
<rect x="401.95" y="15.40" width="2.596" height="0.83" fill="#5C94F2"/>
<rect x="404.54" y="59.63" width="2.596" height="93.57" fill="#EC7068"/>
<rect x="404.54" y="57.84" width="2.596" height="1.79" fill="#00B135"/>
<rect x="404.54" y="43.37" width="2.596" height="14.47" fill="#AE9700"/>
<rect x="404.54" y="16.78" width="2.596" height="26.60" fill="#00B5BA"/>
<rect x="404.54" y="16.23" width="2.596" height="0.55" fill="#E95FD8"/>
<rect x="404.54" y="15.40" width="2.596" height="0.83" fill="#5C94F2"/>
<rect x="407.14" y="55.36" width="2.596" height="97.84" fill="#EC7068"/>
<rect x="407.14" y="53.71" width="2.596" height="1.65" fill="#00B135"/>
<rect x="407.14" y="40.76" width="2.596" height="12.95" fill="#AE9700"/>
<rect x="407.14" y="16.78" width="2.596" height="23.98" fill="#00B5BA"/>
<rect x="407.14" y="16.23" width="2.596" height="0.55" fill="#E95FD8"/>
<rect x="407.14" y="15.40" width="2.596" height="0.83" fill="#5C94F2"/>
<rect x="409.73" y="67.07" width="2.596" height="86.12" fill="#EC7068"/>
<rect x="409.73" y="65.28" width="2.596" height="1.79" fill="#00B135"/>
<rect x="409.73" y="50.68" width="2.596" height="14.61" fill="#AE9700"/>
<rect x="409.73" y="16.78" width="2.596" height="33.90" fill="#00B5BA"/>
<rect x="409.73" y="16.23" width="2.596" height="0.55" fill="#E95FD8"/>
<rect x="409.73" y="15.40" width="2.596" height="0.83" fill="#5C94F2"/>
<rect x="412.33" y="67.07" width="2.596" height="86.12" fill="#EC7068"/>
<rect x="412.33" y="65.28" width="2.596" height="1.79" fill="#00B135"/>
<rect x="412.33" y="51.23" width="2.596" height="14.06" fill="#AE9700"/>
<rect x="412.33" y="16.78" width="2.596" height="34.45" fill="#00B5BA"/>
<rect x="412.33" y="16.23" width="2.596" height="0.55" fill="#E95FD8"/>
<rect x="412.33" y="15.40" width="2.596" height="0.83" fill="#5C94F2"/>
<rect x="414.92" y="47.09" width="2.596" height="106.11" fill="#EC7068"/>
<rect x="414.92" y="45.44" width="2.596" height="1.65" fill="#00B135"/>
<rect x="414.92" y="31.66" width="2.596" height="13.78" fill="#AE9700"/>
<rect x="414.92" y="16.78" width="2.596" height="14.88" fill="#00B5BA"/>
<rect x="414.92" y="16.23" width="2.596" height="0.55" fill="#E95FD8"/>
<rect x="414.92" y="15.40" width="2.596" height="0.83" fill="#5C94F2"/>
<rect x="417.52" y="49.99" width="2.596" height="103.21" fill="#EC7068"/>
<rect x="417.52" y="48.47" width="2.596" height="1.52" fill="#00B135"/>
<rect x="417.52" y="33.45" width="2.596" height="15.02" fill="#AE9700"/>
<rect x="417.52" y="16.78" width="2.596" height="16.67" fill="#00B5BA"/>
<rect x="417.52" y="16.23" width="2.596" height="0.55" fill="#E95FD8"/>
<rect x="417.52" y="15.40" width="2.596" height="0.83" fill="#5C94F2"/>
<rect x="420.12" y="56.05" width="2.596" height="97.15" fill="#EC7068"/>
<rect x="420.12" y="54.40" width="2.596" height="1.65" fill="#00B135"/>
<rect x="420.12" y="39.24" width="2.596" height="15.16" fill="#AE9700"/>
<rect x="420.12" y="16.78" width="2.596" height="22.46" fill="#00B5BA"/>
<rect x="420.12" y="16.23" width="2.596" height="0.55" fill="#E95FD8"/>
<rect x="420.12" y="15.40" width="2.596" height="0.83" fill="#5C94F2"/>
<rect x="422.71" y="56.05" width="2.596" height="97.15" fill="#EC7068"/>
<rect x="422.71" y="54.40" width="2.596" height="1.65" fill="#00B135"/>
<rect x="422.71" y="39.52" width="2.596" height="14.88" fill="#AE9700"/>
<rect x="422.71" y="16.78" width="2.596" height="22.74" fill="#00B5BA"/>
<rect x="422.71" y="16.23" width="2.596" height="0.55" fill="#E95FD8"/>
<rect x="422.71" y="15.40" width="2.596" height="0.83" fill="#5C94F2"/>
<rect x="425.31" y="65.28" width="2.596" height="87.92" fill="#EC7068"/>
<rect x="425.31" y="63.63" width="2.596" height="1.65" fill="#00B135"/>
<rect x="425.31" y="52.47" width="2.596" height="11.16" fill="#AE9700"/>
<rect x="425.31" y="16.78" width="2.596" height="35.69" fill="#00B5BA"/>
<rect x="425.31" y="16.23" width="2.596" height="0.55" fill="#E95FD8"/>
<rect x="425.31" y="15.40" width="2.596" height="0.83" fill="#5C94F2"/>
<rect x="427.90" y="65.28" width="2.596" height="87.92" fill="#EC7068"/>
<rect x="427.90" y="63.63" width="2.596" height="1.65" fill="#00B135"/>
<rect x="427.90" y="52.88" width="2.596" height="10.75" fill="#AE9700"/>
<rect x="427.90" y="16.78" width="2.596" height="36.10" fill="#00B5BA"/>
<rect x="427.90" y="16.23" width="2.596" height="0.55" fill="#E95FD8"/>
<rect x="427.90" y="15.40" width="2.596" height="0.83" fill="#5C94F2"/>
<rect x="430.50" y="102.93" width="2.596" height="50.27" fill="#EC7068"/>
<rect x="430.50" y="101.46" width="2.596" height="1.47" fill="#00B135"/>
<rect x="430.50" y="92.54" width="2.596" height="8.92" fill="#AE9700"/>
<rect x="430.50" y="17.81" width="2.596" height="74.73" fill="#00B5BA"/>
<rect x="430.50" y="17.12" width="2.596" height="0.69" fill="#E95FD8"/>
<rect x="430.50" y="15.40" width="2.596" height="1.72" fill="#5C94F2"/>
<rect x="433.10" y="101.09" width="2.596" height="52.11" fill="#EC7068"/>
<rect x="433.10" y="99.62" width="2.596" height="1.47" fill="#00B135"/>
<rect x="433.10" y="90.70" width="2.596" height="8.92" fill="#AE9700"/>
<rect x="433.10" y="17.81" width="2.596" height="72.89" fill="#00B5BA"/>
<rect x="433.10" y="17.12" width="2.596" height="0.69" fill="#E95FD8"/>
<rect x="433.10" y="15.40" width="2.596" height="1.72" fill="#5C94F2"/>
<rect x="435.69" y="104.77" width="2.596" height="48.43" fill="#EC7068"/>
<rect x="435.69" y="103.30" width="2.596" height="1.47" fill="#00B135"/>
<rect x="435.69" y="95.02" width="2.596" height="8.28" fill="#AE9700"/>
<rect x="435.69" y="17.81" width="2.596" height="77.21" fill="#00B5BA"/>
<rect x="435.69" y="17.12" width="2.596" height="0.69" fill="#E95FD8"/>
<rect x="435.69" y="15.40" width="2.596" height="1.72" fill="#5C94F2"/>
<rect x="438.29" y="106.61" width="2.596" height="46.59" fill="#EC7068"/>
<rect x="438.29" y="105.14" width="2.596" height="1.47" fill="#00B135"/>
<rect x="438.29" y="96.68" width="2.596" height="8.46" fill="#AE9700"/>
<rect x="438.29" y="17.81" width="2.596" height="78.87" fill="#00B5BA"/>
<rect x="438.29" y="17.12" width="2.596" height="0.69" fill="#E95FD8"/>
<rect x="438.29" y="15.40" width="2.596" height="1.72" fill="#5C94F2"/>
<rect x="440.88" y="103.67" width="2.596" height="49.53" fill="#EC7068"/>
<rect x="440.88" y="102.20" width="2.596" height="1.47" fill="#00B135"/>
<rect x="440.88" y="93.46" width="2.596" height="8.74" fill="#AE9700"/>
<rect x="440.88" y="17.81" width="2.596" height="75.65" fill="#00B5BA"/>
<rect x="440.88" y="17.12" width="2.596" height="0.69" fill="#E95FD8"/>
<rect x="440.88" y="15.40" width="2.596" height="1.72" fill="#5C94F2"/>
<rect x="443.48" y="101.74" width="2.596" height="51.46" fill="#EC7068"/>
<rect x="443.48" y="100.36" width="2.596" height="1.38" fill="#00B135"/>
<rect x="443.48" y="92.08" width="2.596" height="8.28" fill="#AE9700"/>
<rect x="443.48" y="17.81" width="2.596" height="74.27" fill="#00B5BA"/>
<rect x="443.48" y="17.12" width="2.596" height="0.69" fill="#E95FD8"/>
<rect x="443.48" y="15.40" width="2.596" height="1.72" fill="#5C94F2"/>
<rect x="446.07" y="104.77" width="2.596" height="48.43" fill="#EC7068"/>
<rect x="446.07" y="103.58" width="2.596" height="1.20" fill="#00B135"/>
<rect x="446.07" y="93.74" width="2.596" height="9.84" fill="#AE9700"/>
<rect x="446.07" y="17.81" width="2.596" height="75.92" fill="#00B5BA"/>
<rect x="446.07" y="17.12" width="2.596" height="0.69" fill="#E95FD8"/>
<rect x="446.07" y="15.40" width="2.596" height="1.72" fill="#5C94F2"/>
<rect x="448.67" y="103.12" width="2.596" height="50.08" fill="#EC7068"/>
<rect x="448.67" y="102.01" width="2.596" height="1.10" fill="#00B135"/>
<rect x="448.67" y="93.00" width="2.596" height="9.02" fill="#AE9700"/>
<rect x="448.67" y="17.81" width="2.596" height="75.19" fill="#00B5BA"/>
<rect x="448.67" y="17.12" width="2.596" height="0.69" fill="#E95FD8"/>
<rect x="448.67" y="15.40" width="2.596" height="1.72" fill="#5C94F2"/>
<rect x="451.27" y="98.98" width="2.596" height="54.22" fill="#EC7068"/>
<rect x="451.27" y="97.60" width="2.596" height="1.38" fill="#00B135"/>
<rect x="451.27" y="88.40" width="2.596" height="9.20" fill="#AE9700"/>
<rect x="451.27" y="17.81" width="2.596" height="70.59" fill="#00B5BA"/>
<rect x="451.27" y="17.12" width="2.596" height="0.69" fill="#E95FD8"/>
<rect x="451.27" y="15.40" width="2.596" height="1.72" fill="#5C94F2"/>
<rect x="453.86" y="98.52" width="2.596" height="54.68" fill="#EC7068"/>
<rect x="453.86" y="97.14" width="2.596" height="1.38" fill="#00B135"/>
<rect x="453.86" y="88.22" width="2.596" height="8.92" fill="#AE9700"/>
<rect x="453.86" y="17.81" width="2.596" height="70.40" fill="#00B5BA"/>
<rect x="453.86" y="17.12" width="2.596" height="0.69" fill="#E95FD8"/>
<rect x="453.86" y="15.40" width="2.596" height="1.72" fill="#5C94F2"/>
<rect x="456.46" y="100.17" width="2.596" height="53.03" fill="#EC7068"/>
<rect x="456.46" y="98.98" width="2.596" height="1.20" fill="#00B135"/>
<rect x="456.46" y="90.42" width="2.596" height="8.56" fill="#AE9700"/>
<rect x="456.46" y="17.81" width="2.596" height="72.61" fill="#00B5BA"/>
<rect x="456.46" y="17.12" width="2.596" height="0.69" fill="#E95FD8"/>
<rect x="456.46" y="15.40" width="2.596" height="1.72" fill="#5C94F2"/>
<rect x="459.05" y="97.14" width="2.596" height="56.06" fill="#EC7068"/>
<rect x="459.05" y="95.76" width="2.596" height="1.38" fill="#00B135"/>
<rect x="459.05" y="87.48" width="2.596" height="8.28" fill="#AE9700"/>
<rect x="459.05" y="17.81" width="2.596" height="69.67" fill="#00B5BA"/>
<rect x="459.05" y="17.12" width="2.596" height="0.69" fill="#E95FD8"/>
<rect x="459.05" y="15.40" width="2.596" height="1.72" fill="#5C94F2"/>
<rect x="461.65" y="93.74" width="2.596" height="59.46" fill="#EC7068"/>
<rect x="461.65" y="92.54" width="2.596" height="1.20" fill="#00B135"/>
<rect x="461.65" y="82.70" width="2.596" height="9.84" fill="#AE9700"/>
<rect x="461.65" y="17.81" width="2.596" height="64.88" fill="#00B5BA"/>
<rect x="461.65" y="17.12" width="2.596" height="0.69" fill="#E95FD8"/>
<rect x="461.65" y="15.40" width="2.596" height="1.72" fill="#5C94F2"/>
<rect x="464.25" y="95.76" width="2.596" height="57.44" fill="#EC7068"/>
<rect x="464.25" y="94.38" width="2.596" height="1.38" fill="#00B135"/>
<rect x="464.25" y="83.80" width="2.596" height="10.58" fill="#AE9700"/>
<rect x="464.25" y="17.81" width="2.596" height="65.99" fill="#00B5BA"/>
<rect x="464.25" y="17.12" width="2.596" height="0.69" fill="#E95FD8"/>
<rect x="464.25" y="15.40" width="2.596" height="1.72" fill="#5C94F2"/>
<rect x="466.84" y="98.06" width="2.596" height="55.14" fill="#EC7068"/>
<rect x="466.84" y="96.68" width="2.596" height="1.38" fill="#00B135"/>
<rect x="466.84" y="87.94" width="2.596" height="8.74" fill="#AE9700"/>
<rect x="466.84" y="17.81" width="2.596" height="70.13" fill="#00B5BA"/>
<rect x="466.84" y="17.12" width="2.596" height="0.69" fill="#E95FD8"/>
<rect x="466.84" y="15.40" width="2.596" height="1.72" fill="#5C94F2"/>
<rect x="469.44" y="103.30" width="2.596" height="49.90" fill="#EC7068"/>
<rect x="469.44" y="102.01" width="2.596" height="1.29" fill="#00B135"/>
<rect x="469.44" y="92.54" width="2.596" height="9.48" fill="#AE9700"/>
<rect x="469.44" y="17.81" width="2.596" height="74.73" fill="#00B5BA"/>
<rect x="469.44" y="17.12" width="2.596" height="0.69" fill="#E95FD8"/>
<rect x="469.44" y="15.40" width="2.596" height="1.72" fill="#5C94F2"/>
<rect x="472.03" y="98.70" width="2.596" height="54.50" fill="#EC7068"/>
<rect x="472.03" y="97.41" width="2.596" height="1.29" fill="#00B135"/>
<rect x="472.03" y="88.58" width="2.596" height="8.83" fill="#AE9700"/>
<rect x="472.03" y="17.81" width="2.596" height="70.77" fill="#00B5BA"/>
<rect x="472.03" y="17.12" width="2.596" height="0.69" fill="#E95FD8"/>
<rect x="472.03" y="15.40" width="2.596" height="1.72" fill="#5C94F2"/>
<rect x="474.63" y="101.74" width="2.596" height="51.46" fill="#EC7068"/>
<rect x="474.63" y="100.36" width="2.596" height="1.38" fill="#00B135"/>
<rect x="474.63" y="91.34" width="2.596" height="9.02" fill="#AE9700"/>
<rect x="474.63" y="17.81" width="2.596" height="73.53" fill="#00B5BA"/>
<rect x="474.63" y="17.12" width="2.596" height="0.69" fill="#E95FD8"/>
<rect x="474.63" y="15.40" width="2.596" height="1.72" fill="#5C94F2"/>
<rect x="477.22" y="93.92" width="2.596" height="59.28" fill="#EC7068"/>
<rect x="477.22" y="92.54" width="2.596" height="1.38" fill="#00B135"/>
<rect x="477.22" y="81.50" width="2.596" height="11.04" fill="#AE9700"/>
<rect x="477.22" y="17.81" width="2.596" height="63.69" fill="#00B5BA"/>
<rect x="477.22" y="17.12" width="2.596" height="0.69" fill="#E95FD8"/>
<rect x="477.22" y="15.40" width="2.596" height="1.72" fill="#5C94F2"/>
<rect x="479.82" y="93.92" width="2.596" height="59.28" fill="#EC7068"/>
<rect x="479.82" y="92.54" width="2.596" height="1.38" fill="#00B135"/>
<rect x="479.82" y="81.50" width="2.596" height="11.04" fill="#AE9700"/>
<rect x="479.82" y="17.81" width="2.596" height="63.69" fill="#00B5BA"/>
<rect x="479.82" y="17.12" width="2.596" height="0.69" fill="#E95FD8"/>
<rect x="479.82" y="15.40" width="2.596" height="1.72" fill="#5C94F2"/>
<rect x="482.42" y="105.88" width="2.596" height="47.32" fill="#EC7068"/>
<rect x="482.42" y="104.50" width="2.596" height="1.38" fill="#00B135"/>
<rect x="482.42" y="95.30" width="2.596" height="9.20" fill="#AE9700"/>
<rect x="482.42" y="17.81" width="2.596" height="77.49" fill="#00B5BA"/>
<rect x="482.42" y="17.12" width="2.596" height="0.69" fill="#E95FD8"/>
<rect x="482.42" y="15.40" width="2.596" height="1.72" fill="#5C94F2"/>
<rect x="485.01" y="107.72" width="2.596" height="45.48" fill="#EC7068"/>
<rect x="485.01" y="106.61" width="2.596" height="1.10" fill="#00B135"/>
<rect x="485.01" y="97.14" width="2.596" height="9.48" fill="#AE9700"/>
<rect x="485.01" y="17.81" width="2.596" height="79.33" fill="#00B5BA"/>
<rect x="485.01" y="17.12" width="2.596" height="0.69" fill="#E95FD8"/>
<rect x="485.01" y="15.40" width="2.596" height="1.72" fill="#5C94F2"/>
<rect x="487.61" y="104.96" width="2.596" height="48.24" fill="#EC7068"/>
<rect x="487.61" y="103.85" width="2.596" height="1.10" fill="#00B135"/>
<rect x="487.61" y="94.38" width="2.596" height="9.48" fill="#AE9700"/>
<rect x="487.61" y="17.81" width="2.596" height="76.57" fill="#00B5BA"/>
<rect x="487.61" y="17.12" width="2.596" height="0.69" fill="#E95FD8"/>
<rect x="487.61" y="15.40" width="2.596" height="1.72" fill="#5C94F2"/>
<rect x="490.20" y="105.88" width="2.596" height="47.32" fill="#EC7068"/>
<rect x="490.20" y="104.50" width="2.596" height="1.38" fill="#00B135"/>
<rect x="490.20" y="94.84" width="2.596" height="9.66" fill="#AE9700"/>
<rect x="490.20" y="17.81" width="2.596" height="77.03" fill="#00B5BA"/>
<rect x="490.20" y="17.12" width="2.596" height="0.69" fill="#E95FD8"/>
<rect x="490.20" y="15.40" width="2.596" height="1.72" fill="#5C94F2"/>
<rect x="492.80" y="96.74" width="2.596" height="56.46" fill="#EC7068"/>
<rect x="492.80" y="95.17" width="2.596" height="1.56" fill="#00B135"/>
<rect x="492.80" y="85.98" width="2.596" height="9.20" fill="#AE9700"/>
<rect x="492.80" y="17.81" width="2.596" height="68.16" fill="#00B5BA"/>
<rect x="492.80" y="17.12" width="2.596" height="0.69" fill="#E95FD8"/>
<rect x="492.80" y="15.40" width="2.596" height="1.72" fill="#5C94F2"/>
<rect x="495.40" y="95.82" width="2.596" height="57.38" fill="#EC7068"/>
<rect x="495.40" y="94.25" width="2.596" height="1.56" fill="#00B135"/>
<rect x="495.40" y="85.24" width="2.596" height="9.02" fill="#AE9700"/>
<rect x="495.40" y="17.81" width="2.596" height="67.43" fill="#00B5BA"/>
<rect x="495.40" y="17.12" width="2.596" height="0.69" fill="#E95FD8"/>
<rect x="495.40" y="15.40" width="2.596" height="1.72" fill="#5C94F2"/>
<rect x="497.99" y="102.49" width="2.596" height="50.71" fill="#EC7068"/>
<rect x="497.99" y="101.34" width="2.596" height="1.15" fill="#00B135"/>
<rect x="497.99" y="93.06" width="2.596" height="8.28" fill="#AE9700"/>
<rect x="497.99" y="17.81" width="2.596" height="75.25" fill="#00B5BA"/>
<rect x="497.99" y="17.12" width="2.596" height="0.69" fill="#E95FD8"/>
<rect x="497.99" y="15.40" width="2.596" height="1.72" fill="#5C94F2"/>
<rect x="500.59" y="100.88" width="2.596" height="52.32" fill="#EC7068"/>
<rect x="500.59" y="99.50" width="2.596" height="1.38" fill="#00B135"/>
<rect x="500.59" y="90.94" width="2.596" height="8.56" fill="#AE9700"/>
<rect x="500.59" y="17.81" width="2.596" height="73.13" fill="#00B5BA"/>
<rect x="500.59" y="17.12" width="2.596" height="0.69" fill="#E95FD8"/>
<rect x="500.59" y="15.40" width="2.596" height="1.72" fill="#5C94F2"/>
<rect x="503.18" y="98.30" width="2.596" height="54.90" fill="#EC7068"/>
<rect x="503.18" y="96.74" width="2.596" height="1.56" fill="#00B135"/>
<rect x="503.18" y="87.26" width="2.596" height="9.48" fill="#AE9700"/>
<rect x="503.18" y="17.81" width="2.596" height="69.45" fill="#00B5BA"/>
<rect x="503.18" y="17.12" width="2.596" height="0.69" fill="#E95FD8"/>
<rect x="503.18" y="15.40" width="2.596" height="1.72" fill="#5C94F2"/>
<rect x="505.78" y="99.22" width="2.596" height="53.98" fill="#EC7068"/>
<rect x="505.78" y="97.66" width="2.596" height="1.56" fill="#00B135"/>
<rect x="505.78" y="89.10" width="2.596" height="8.56" fill="#AE9700"/>
<rect x="505.78" y="17.81" width="2.596" height="71.29" fill="#00B5BA"/>
<rect x="505.78" y="17.12" width="2.596" height="0.69" fill="#E95FD8"/>
<rect x="505.78" y="15.40" width="2.596" height="1.72" fill="#5C94F2"/>
<rect x="508.38" y="94.44" width="2.596" height="58.76" fill="#EC7068"/>
<rect x="508.38" y="93.06" width="2.596" height="1.38" fill="#00B135"/>
<rect x="508.38" y="83.40" width="2.596" height="9.66" fill="#AE9700"/>
<rect x="508.38" y="17.81" width="2.596" height="65.59" fill="#00B5BA"/>
<rect x="508.38" y="17.12" width="2.596" height="0.69" fill="#E95FD8"/>
<rect x="508.38" y="15.40" width="2.596" height="1.72" fill="#5C94F2"/>
<rect x="510.97" y="100.14" width="2.596" height="53.06" fill="#EC7068"/>
<rect x="510.97" y="98.85" width="2.596" height="1.29" fill="#00B135"/>
<rect x="510.97" y="89.66" width="2.596" height="9.20" fill="#AE9700"/>
<rect x="510.97" y="17.81" width="2.596" height="71.84" fill="#00B5BA"/>
<rect x="510.97" y="17.12" width="2.596" height="0.69" fill="#E95FD8"/>
<rect x="510.97" y="15.40" width="2.596" height="1.72" fill="#5C94F2"/>
<rect x="513.57" y="102.21" width="2.596" height="50.99" fill="#EC7068"/>
<rect x="513.57" y="101.34" width="2.596" height="0.88" fill="#00B135"/>
<rect x="513.57" y="91.49" width="2.596" height="9.84" fill="#AE9700"/>
<rect x="513.57" y="17.81" width="2.596" height="73.68" fill="#00B5BA"/>
<rect x="513.57" y="17.12" width="2.596" height="0.69" fill="#E95FD8"/>
<rect x="513.57" y="15.40" width="2.596" height="1.72" fill="#5C94F2"/>
<rect x="516.16" y="96.74" width="2.596" height="56.46" fill="#EC7068"/>
<rect x="516.16" y="95.17" width="2.596" height="1.56" fill="#00B135"/>
<rect x="516.16" y="86.34" width="2.596" height="8.83" fill="#AE9700"/>
<rect x="516.16" y="17.81" width="2.596" height="68.53" fill="#00B5BA"/>
<rect x="516.16" y="17.12" width="2.596" height="0.69" fill="#E95FD8"/>
<rect x="516.16" y="15.40" width="2.596" height="1.72" fill="#5C94F2"/>
<rect x="518.76" y="99.04" width="2.596" height="54.16" fill="#EC7068"/>
<rect x="518.76" y="97.66" width="2.596" height="1.38" fill="#00B135"/>
<rect x="518.76" y="89.10" width="2.596" height="8.56" fill="#AE9700"/>
<rect x="518.76" y="17.81" width="2.596" height="71.29" fill="#00B5BA"/>
<rect x="518.76" y="17.12" width="2.596" height="0.69" fill="#E95FD8"/>
<rect x="518.76" y="15.40" width="2.596" height="1.72" fill="#5C94F2"/>
<rect x="521.35" y="96.46" width="2.596" height="56.74" fill="#EC7068"/>
<rect x="521.35" y="94.90" width="2.596" height="1.56" fill="#00B135"/>
<rect x="521.35" y="86.62" width="2.596" height="8.28" fill="#AE9700"/>
<rect x="521.35" y="17.81" width="2.596" height="68.81" fill="#00B5BA"/>
<rect x="521.35" y="17.12" width="2.596" height="0.69" fill="#E95FD8"/>
<rect x="521.35" y="15.40" width="2.596" height="1.72" fill="#5C94F2"/>
<rect x="523.95" y="89.38" width="2.596" height="63.82" fill="#EC7068"/>
<rect x="523.95" y="87.82" width="2.596" height="1.56" fill="#00B135"/>
<rect x="523.95" y="77.42" width="2.596" height="10.40" fill="#AE9700"/>
<rect x="523.95" y="17.81" width="2.596" height="59.61" fill="#00B5BA"/>
<rect x="523.95" y="17.12" width="2.596" height="0.69" fill="#E95FD8"/>
<rect x="523.95" y="15.40" width="2.596" height="1.72" fill="#5C94F2"/>
<rect x="526.55" y="95.54" width="2.596" height="57.66" fill="#EC7068"/>
<rect x="526.55" y="94.25" width="2.596" height="1.29" fill="#00B135"/>
<rect x="526.55" y="82.30" width="2.596" height="11.96" fill="#AE9700"/>
<rect x="526.55" y="17.81" width="2.596" height="64.48" fill="#00B5BA"/>
<rect x="526.55" y="17.12" width="2.596" height="0.69" fill="#E95FD8"/>
<rect x="526.55" y="15.40" width="2.596" height="1.72" fill="#5C94F2"/>
<rect x="529.14" y="101.66" width="2.596" height="51.54" fill="#EC7068"/>
<rect x="529.14" y="100.69" width="2.596" height="0.97" fill="#00B135"/>
<rect x="529.14" y="90.30" width="2.596" height="10.40" fill="#AE9700"/>
<rect x="529.14" y="17.81" width="2.596" height="72.49" fill="#00B5BA"/>
<rect x="529.14" y="17.12" width="2.596" height="0.69" fill="#E95FD8"/>
<rect x="529.14" y="15.40" width="2.596" height="1.72" fill="#5C94F2"/>
<rect x="531.74" y="102.21" width="2.596" height="50.99" fill="#EC7068"/>
<rect x="531.74" y="101.61" width="2.596" height="0.60" fill="#00B135"/>
<rect x="531.74" y="91.49" width="2.596" height="10.12" fill="#AE9700"/>
<rect x="531.74" y="17.81" width="2.596" height="73.68" fill="#00B5BA"/>
<rect x="531.74" y="17.12" width="2.596" height="0.69" fill="#E95FD8"/>
<rect x="531.74" y="15.40" width="2.596" height="1.72" fill="#5C94F2"/>
<rect x="534.33" y="84.78" width="2.596" height="68.42" fill="#EC7068"/>
<rect x="534.33" y="83.22" width="2.596" height="1.56" fill="#00B135"/>
<rect x="534.33" y="73.28" width="2.596" height="9.94" fill="#AE9700"/>
<rect x="534.33" y="17.81" width="2.596" height="55.47" fill="#00B5BA"/>
<rect x="534.33" y="17.12" width="2.596" height="0.69" fill="#E95FD8"/>
<rect x="534.33" y="15.40" width="2.596" height="1.72" fill="#5C94F2"/>
<rect x="536.93" y="97.93" width="2.596" height="55.27" fill="#EC7068"/>
<rect x="536.93" y="96.74" width="2.596" height="1.20" fill="#00B135"/>
<rect x="536.93" y="85.70" width="2.596" height="11.04" fill="#AE9700"/>
<rect x="536.93" y="17.81" width="2.596" height="67.89" fill="#00B5BA"/>
<rect x="536.93" y="17.12" width="2.596" height="0.69" fill="#E95FD8"/>
<rect x="536.93" y="15.40" width="2.596" height="1.72" fill="#5C94F2"/>
<rect x="539.52" y="88.46" width="2.596" height="64.74" fill="#EC7068"/>
<rect x="539.52" y="87.08" width="2.596" height="1.38" fill="#00B135"/>
<rect x="539.52" y="74.20" width="2.596" height="12.88" fill="#AE9700"/>
<rect x="539.52" y="17.81" width="2.596" height="56.39" fill="#00B5BA"/>
<rect x="539.52" y="17.12" width="2.596" height="0.69" fill="#E95FD8"/>
<rect x="539.52" y="15.40" width="2.596" height="1.72" fill="#5C94F2"/>
<rect x="542.12" y="88.46" width="2.596" height="64.74" fill="#EC7068"/>
<rect x="542.12" y="87.08" width="2.596" height="1.38" fill="#00B135"/>
<rect x="542.12" y="71.90" width="2.596" height="15.18" fill="#AE9700"/>
<rect x="542.12" y="17.81" width="2.596" height="54.09" fill="#00B5BA"/>
<rect x="542.12" y="17.12" width="2.596" height="0.69" fill="#E95FD8"/>
<rect x="542.12" y="15.40" width="2.596" height="1.72" fill="#5C94F2"/>
<rect x="544.72" y="105.66" width="2.596" height="47.54" fill="#EC7068"/>
<rect x="544.72" y="104.20" width="2.596" height="1.46" fill="#00B135"/>
<rect x="544.72" y="94.25" width="2.596" height="9.94" fill="#AE9700"/>
<rect x="544.72" y="17.81" width="2.596" height="76.44" fill="#00B5BA"/>
<rect x="544.72" y="17.12" width="2.596" height="0.69" fill="#E95FD8"/>
<rect x="544.72" y="15.40" width="2.596" height="1.72" fill="#5C94F2"/>
<rect x="547.31" y="110.76" width="2.596" height="42.44" fill="#EC7068"/>
<rect x="547.31" y="109.54" width="2.596" height="1.22" fill="#00B135"/>
<rect x="547.31" y="99.22" width="2.596" height="10.31" fill="#AE9700"/>
<rect x="547.31" y="17.81" width="2.596" height="81.41" fill="#00B5BA"/>
<rect x="547.31" y="17.12" width="2.596" height="0.69" fill="#E95FD8"/>
<rect x="547.31" y="15.40" width="2.596" height="1.72" fill="#5C94F2"/>
<rect x="549.91" y="101.06" width="2.596" height="52.14" fill="#EC7068"/>
<rect x="549.91" y="99.77" width="2.596" height="1.29" fill="#00B135"/>
<rect x="549.91" y="90.76" width="2.596" height="9.02" fill="#AE9700"/>
<rect x="549.91" y="17.81" width="2.596" height="72.95" fill="#00B5BA"/>
<rect x="549.91" y="17.12" width="2.596" height="0.69" fill="#E95FD8"/>
<rect x="549.91" y="15.40" width="2.596" height="1.72" fill="#5C94F2"/>
<rect x="552.50" y="110.76" width="2.596" height="42.44" fill="#EC7068"/>
<rect x="552.50" y="109.54" width="2.596" height="1.22" fill="#00B135"/>
<rect x="552.50" y="99.60" width="2.596" height="9.94" fill="#AE9700"/>
<rect x="552.50" y="17.81" width="2.596" height="81.79" fill="#00B5BA"/>
<rect x="552.50" y="17.12" width="2.596" height="0.69" fill="#E95FD8"/>
<rect x="552.50" y="15.40" width="2.596" height="1.72" fill="#5C94F2"/>
<rect x="555.10" y="97.14" width="2.596" height="56.06" fill="#EC7068"/>
<rect x="555.10" y="95.76" width="2.596" height="1.38" fill="#00B135"/>
<rect x="555.10" y="86.56" width="2.596" height="9.20" fill="#AE9700"/>
<rect x="555.10" y="17.81" width="2.596" height="68.75" fill="#00B5BA"/>
<rect x="555.10" y="17.12" width="2.596" height="0.69" fill="#E95FD8"/>
<rect x="555.10" y="15.40" width="2.596" height="1.72" fill="#5C94F2"/>
<rect x="557.70" y="98.06" width="2.596" height="55.14" fill="#EC7068"/>
<rect x="557.70" y="96.86" width="2.596" height="1.20" fill="#00B135"/>
<rect x="557.70" y="87.66" width="2.596" height="9.20" fill="#AE9700"/>
<rect x="557.70" y="17.81" width="2.596" height="69.85" fill="#00B5BA"/>
<rect x="557.70" y="17.12" width="2.596" height="0.69" fill="#E95FD8"/>
<rect x="557.70" y="15.40" width="2.596" height="1.72" fill="#5C94F2"/>
<rect x="560.29" y="101.09" width="2.596" height="52.11" fill="#EC7068"/>
<rect x="560.29" y="99.62" width="2.596" height="1.47" fill="#00B135"/>
<rect x="560.29" y="91.34" width="2.596" height="8.28" fill="#AE9700"/>
<rect x="560.29" y="17.81" width="2.596" height="73.53" fill="#00B5BA"/>
<rect x="560.29" y="17.12" width="2.596" height="0.69" fill="#E95FD8"/>
<rect x="560.29" y="15.40" width="2.596" height="1.72" fill="#5C94F2"/>
<rect x="562.89" y="102.20" width="2.596" height="51.00" fill="#EC7068"/>
<rect x="562.89" y="100.82" width="2.596" height="1.38" fill="#00B135"/>
<rect x="562.89" y="92.54" width="2.596" height="8.28" fill="#AE9700"/>
<rect x="562.89" y="17.81" width="2.596" height="74.73" fill="#00B5BA"/>
<rect x="562.89" y="17.12" width="2.596" height="0.69" fill="#E95FD8"/>
<rect x="562.89" y="15.40" width="2.596" height="1.72" fill="#5C94F2"/>
<rect x="565.48" y="96.68" width="2.596" height="56.52" fill="#EC7068"/>
<rect x="565.48" y="95.30" width="2.596" height="1.38" fill="#00B135"/>
<rect x="565.48" y="86.38" width="2.596" height="8.92" fill="#AE9700"/>
<rect x="565.48" y="17.81" width="2.596" height="68.56" fill="#00B5BA"/>
<rect x="565.48" y="17.12" width="2.596" height="0.69" fill="#E95FD8"/>
<rect x="565.48" y="15.40" width="2.596" height="1.72" fill="#5C94F2"/>
<rect x="568.08" y="102.93" width="2.596" height="50.27" fill="#EC7068"/>
<rect x="568.08" y="101.74" width="2.596" height="1.20" fill="#00B135"/>
<rect x="568.08" y="92.08" width="2.596" height="9.66" fill="#AE9700"/>
<rect x="568.08" y="17.81" width="2.596" height="74.27" fill="#00B5BA"/>
<rect x="568.08" y="17.12" width="2.596" height="0.69" fill="#E95FD8"/>
<rect x="568.08" y="15.40" width="2.596" height="1.72" fill="#5C94F2"/>
<rect x="570.67" y="98.98" width="2.596" height="54.22" fill="#EC7068"/>
<rect x="570.67" y="97.60" width="2.596" height="1.38" fill="#00B135"/>
<rect x="570.67" y="87.94" width="2.596" height="9.66" fill="#AE9700"/>
<rect x="570.67" y="17.81" width="2.596" height="70.13" fill="#00B5BA"/>
<rect x="570.67" y="17.12" width="2.596" height="0.69" fill="#E95FD8"/>
<rect x="570.67" y="15.40" width="2.596" height="1.72" fill="#5C94F2"/>
<rect x="573.27" y="103.85" width="2.596" height="49.35" fill="#EC7068"/>
<rect x="573.27" y="102.38" width="2.596" height="1.47" fill="#00B135"/>
<rect x="573.27" y="92.54" width="2.596" height="9.84" fill="#AE9700"/>
<rect x="573.27" y="17.81" width="2.596" height="74.73" fill="#00B5BA"/>
<rect x="573.27" y="17.12" width="2.596" height="0.69" fill="#E95FD8"/>
<rect x="573.27" y="15.40" width="2.596" height="1.72" fill="#5C94F2"/>
<rect x="575.87" y="95.94" width="2.596" height="57.26" fill="#EC7068"/>
<rect x="575.87" y="94.66" width="2.596" height="1.29" fill="#00B135"/>
<rect x="575.87" y="84.54" width="2.596" height="10.12" fill="#AE9700"/>
<rect x="575.87" y="17.81" width="2.596" height="66.72" fill="#00B5BA"/>
<rect x="575.87" y="17.12" width="2.596" height="0.69" fill="#E95FD8"/>
<rect x="575.87" y="15.40" width="2.596" height="1.72" fill="#5C94F2"/>
<rect x="578.46" y="98.06" width="2.596" height="55.14" fill="#EC7068"/>
<rect x="578.46" y="96.68" width="2.596" height="1.38" fill="#00B135"/>
<rect x="578.46" y="87.02" width="2.596" height="9.66" fill="#AE9700"/>
<rect x="578.46" y="17.81" width="2.596" height="69.21" fill="#00B5BA"/>
<rect x="578.46" y="17.12" width="2.596" height="0.69" fill="#E95FD8"/>
<rect x="578.46" y="15.40" width="2.596" height="1.72" fill="#5C94F2"/>
<rect x="581.06" y="97.60" width="2.596" height="55.60" fill="#EC7068"/>
<rect x="581.06" y="96.22" width="2.596" height="1.38" fill="#00B135"/>
<rect x="581.06" y="87.66" width="2.596" height="8.56" fill="#AE9700"/>
<rect x="581.06" y="17.81" width="2.596" height="69.85" fill="#00B5BA"/>
<rect x="581.06" y="17.12" width="2.596" height="0.69" fill="#E95FD8"/>
<rect x="581.06" y="15.40" width="2.596" height="1.72" fill="#5C94F2"/>
<rect x="583.65" y="101.46" width="2.596" height="51.74" fill="#EC7068"/>
<rect x="583.65" y="100.17" width="2.596" height="1.29" fill="#00B135"/>
<rect x="583.65" y="91.34" width="2.596" height="8.83" fill="#AE9700"/>
<rect x="583.65" y="17.81" width="2.596" height="73.53" fill="#00B5BA"/>
<rect x="583.65" y="17.12" width="2.596" height="0.69" fill="#E95FD8"/>
<rect x="583.65" y="15.40" width="2.596" height="1.72" fill="#5C94F2"/>
<rect x="586.25" y="86.56" width="2.596" height="66.64" fill="#EC7068"/>
<rect x="586.25" y="85.18" width="2.596" height="1.38" fill="#00B135"/>
<rect x="586.25" y="74.14" width="2.596" height="11.04" fill="#AE9700"/>
<rect x="586.25" y="17.81" width="2.596" height="56.33" fill="#00B5BA"/>
<rect x="586.25" y="17.12" width="2.596" height="0.69" fill="#E95FD8"/>
<rect x="586.25" y="15.40" width="2.596" height="1.72" fill="#5C94F2"/>
<rect x="588.85" y="101.28" width="2.596" height="51.92" fill="#EC7068"/>
<rect x="588.85" y="100.17" width="2.596" height="1.10" fill="#00B135"/>
<rect x="588.85" y="87.94" width="2.596" height="12.24" fill="#AE9700"/>
<rect x="588.85" y="17.81" width="2.596" height="70.13" fill="#00B5BA"/>
<rect x="588.85" y="17.12" width="2.596" height="0.69" fill="#E95FD8"/>
<rect x="588.85" y="15.40" width="2.596" height="1.72" fill="#5C94F2"/>
<rect x="591.44" y="91.62" width="2.596" height="61.58" fill="#EC7068"/>
<rect x="591.44" y="90.42" width="2.596" height="1.20" fill="#00B135"/>
<rect x="591.44" y="80.30" width="2.596" height="10.12" fill="#AE9700"/>
<rect x="591.44" y="17.81" width="2.596" height="62.49" fill="#00B5BA"/>
<rect x="591.44" y="17.12" width="2.596" height="0.69" fill="#E95FD8"/>
<rect x="591.44" y="15.40" width="2.596" height="1.72" fill="#5C94F2"/>
<rect x="594.04" y="102.93" width="2.596" height="50.27" fill="#EC7068"/>
<rect x="594.04" y="101.74" width="2.596" height="1.20" fill="#00B135"/>
<rect x="594.04" y="92.08" width="2.596" height="9.66" fill="#AE9700"/>
<rect x="594.04" y="17.81" width="2.596" height="74.27" fill="#00B5BA"/>
<rect x="594.04" y="17.12" width="2.596" height="0.69" fill="#E95FD8"/>
<rect x="594.04" y="15.40" width="2.596" height="1.72" fill="#5C94F2"/>
<rect x="596.63" y="95.30" width="2.596" height="57.90" fill="#EC7068"/>
<rect x="596.63" y="94.10" width="2.596" height="1.20" fill="#00B135"/>
<rect x="596.63" y="84.54" width="2.596" height="9.57" fill="#AE9700"/>
<rect x="596.63" y="17.81" width="2.596" height="66.72" fill="#00B5BA"/>
<rect x="596.63" y="17.12" width="2.596" height="0.69" fill="#E95FD8"/>
<rect x="596.63" y="15.40" width="2.596" height="1.72" fill="#5C94F2"/>
<rect x="599.23" y="104.50" width="2.596" height="48.70" fill="#EC7068"/>
<rect x="599.23" y="103.30" width="2.596" height="1.20" fill="#00B135"/>
<rect x="599.23" y="93.46" width="2.596" height="9.84" fill="#AE9700"/>
<rect x="599.23" y="17.81" width="2.596" height="75.65" fill="#00B5BA"/>
<rect x="599.23" y="17.12" width="2.596" height="0.69" fill="#E95FD8"/>
<rect x="599.23" y="15.40" width="2.596" height="1.72" fill="#5C94F2"/>
<rect x="601.83" y="85.64" width="2.596" height="67.56" fill="#EC7068"/>
<rect x="601.83" y="84.26" width="2.596" height="1.38" fill="#00B135"/>
<rect x="601.83" y="72.58" width="2.596" height="11.68" fill="#AE9700"/>
<rect x="601.83" y="17.81" width="2.596" height="54.76" fill="#00B5BA"/>
<rect x="601.83" y="17.12" width="2.596" height="0.69" fill="#E95FD8"/>
<rect x="601.83" y="15.40" width="2.596" height="1.72" fill="#5C94F2"/>
<rect x="604.42" y="95.30" width="2.596" height="57.90" fill="#EC7068"/>
<rect x="604.42" y="94.10" width="2.596" height="1.20" fill="#00B135"/>
<rect x="604.42" y="81.22" width="2.596" height="12.88" fill="#AE9700"/>
<rect x="604.42" y="17.81" width="2.596" height="63.41" fill="#00B5BA"/>
<rect x="604.42" y="17.12" width="2.596" height="0.69" fill="#E95FD8"/>
<rect x="604.42" y="15.40" width="2.596" height="1.72" fill="#5C94F2"/>
<rect x="607.02" y="96.22" width="2.596" height="56.98" fill="#EC7068"/>
<rect x="607.02" y="94.84" width="2.596" height="1.38" fill="#00B135"/>
<rect x="607.02" y="83.80" width="2.596" height="11.04" fill="#AE9700"/>
<rect x="607.02" y="17.81" width="2.596" height="65.99" fill="#00B5BA"/>
<rect x="607.02" y="17.12" width="2.596" height="0.69" fill="#E95FD8"/>
<rect x="607.02" y="15.40" width="2.596" height="1.72" fill="#5C94F2"/>
<rect x="609.61" y="109.79" width="2.596" height="43.41" fill="#EC7068"/>
<rect x="609.61" y="108.64" width="2.596" height="1.15" fill="#00B135"/>
<rect x="609.61" y="97.78" width="2.596" height="10.86" fill="#AE9700"/>
<rect x="609.61" y="17.81" width="2.596" height="79.97" fill="#00B5BA"/>
<rect x="609.61" y="17.12" width="2.596" height="0.69" fill="#E95FD8"/>
<rect x="609.61" y="15.40" width="2.596" height="1.72" fill="#5C94F2"/>
<rect x="612.21" y="99.90" width="2.596" height="53.30" fill="#EC7068"/>
<rect x="612.21" y="98.70" width="2.596" height="1.20" fill="#00B135"/>
<rect x="612.21" y="88.40" width="2.596" height="10.30" fill="#AE9700"/>
<rect x="612.21" y="17.81" width="2.596" height="70.59" fill="#00B5BA"/>
<rect x="612.21" y="17.12" width="2.596" height="0.69" fill="#E95FD8"/>
<rect x="612.21" y="15.40" width="2.596" height="1.72" fill="#5C94F2"/>
<rect x="614.80" y="107.72" width="2.596" height="45.48" fill="#EC7068"/>
<rect x="614.80" y="106.34" width="2.596" height="1.38" fill="#00B135"/>
<rect x="614.80" y="96.22" width="2.596" height="10.12" fill="#AE9700"/>
<rect x="614.80" y="17.81" width="2.596" height="78.41" fill="#00B5BA"/>
<rect x="614.80" y="17.12" width="2.596" height="0.69" fill="#E95FD8"/>
<rect x="614.80" y="15.40" width="2.596" height="1.72" fill="#5C94F2"/>
</g>
<text font-size="16.3" fill="#000" text-anchor="start" transform="translate(-0.30 11.70) scale(0.9 1)">A</text>
<text font-size="15" fill="#000" text-anchor="start" transform="translate(341.50 11.60) scale(0.93 1)">B</text>
<text font-size="16.5" fill="#000" text-anchor="start" transform="translate(173.20 190.10) scale(0.88 1)">C</text>
<text font-size="7" fill="#4D4D4D" text-anchor="end" transform="translate(23.10 155.70) scale(0.9 1)">0</text>
<line x1="23.50" y1="153.20" x2="25.30" y2="153.20" stroke="#333" stroke-width="0.5"/>
<text font-size="7" fill="#4D4D4D" text-anchor="end" transform="translate(23.10 121.25) scale(0.9 1)">25</text>
<line x1="23.50" y1="118.75" x2="25.30" y2="118.75" stroke="#333" stroke-width="0.5"/>
<text font-size="7" fill="#4D4D4D" text-anchor="end" transform="translate(23.10 86.80) scale(0.9 1)">50</text>
<line x1="23.50" y1="84.30" x2="25.30" y2="84.30" stroke="#333" stroke-width="0.5"/>
<text font-size="7" fill="#4D4D4D" text-anchor="end" transform="translate(23.10 52.35) scale(0.9 1)">75</text>
<line x1="23.50" y1="49.85" x2="25.30" y2="49.85" stroke="#333" stroke-width="0.5"/>
<text font-size="7" fill="#4D4D4D" text-anchor="end" transform="translate(23.10 17.90) scale(0.9 1)">100</text>
<line x1="23.50" y1="15.40" x2="25.30" y2="15.40" stroke="#333" stroke-width="0.5"/>
<line x1="25.20" y1="15.40" x2="25.20" y2="153.20" stroke="#9a9a9a" stroke-width="0.6"/>
<text font-size="7" fill="#4D4D4D" text-anchor="end" transform="translate(366.20 155.70) scale(0.9 1)">0</text>
<line x1="366.60" y1="153.20" x2="368.40" y2="153.20" stroke="#333" stroke-width="0.5"/>
<text font-size="7" fill="#4D4D4D" text-anchor="end" transform="translate(366.20 121.25) scale(0.9 1)">25</text>
<line x1="366.60" y1="118.75" x2="368.40" y2="118.75" stroke="#333" stroke-width="0.5"/>
<text font-size="7" fill="#4D4D4D" text-anchor="end" transform="translate(366.20 86.80) scale(0.9 1)">50</text>
<line x1="366.60" y1="84.30" x2="368.40" y2="84.30" stroke="#333" stroke-width="0.5"/>
<text font-size="7" fill="#4D4D4D" text-anchor="end" transform="translate(366.20 52.35) scale(0.9 1)">75</text>
<line x1="366.60" y1="49.85" x2="368.40" y2="49.85" stroke="#333" stroke-width="0.5"/>
<text font-size="7" fill="#4D4D4D" text-anchor="end" transform="translate(366.20 17.90) scale(0.9 1)">100</text>
<line x1="366.60" y1="15.40" x2="368.40" y2="15.40" stroke="#333" stroke-width="0.5"/>
<line x1="368.10" y1="15.40" x2="368.10" y2="153.20" stroke="#9a9a9a" stroke-width="0.6"/>
<text font-size="7.9" fill="#000" text-anchor="middle" transform="translate(12.10 84.20) rotate(-90)">% of reads</text>
<text font-size="7.9" fill="#000" text-anchor="middle" transform="translate(354.00 84.30) rotate(-90)">% of reads</text>
<rect x="25.40" y="155.4" width="59.00" height="9.0" fill="#fff" stroke="#333" stroke-width="0.7"/>
<rect x="84.40" y="155.4" width="58.70" height="9.0" fill="#fff" stroke="#333" stroke-width="0.7"/>
<rect x="143.10" y="155.4" width="58.40" height="9.0" fill="#fff" stroke="#333" stroke-width="0.7"/>
<rect x="201.50" y="155.4" width="59.20" height="9.0" fill="#fff" stroke="#333" stroke-width="0.7"/>
<text font-size="6.9" fill="#1A1A1A" text-anchor="middle" stroke="#1A1A1A" stroke-width="0.1" transform="translate(54.75 162.50)">FF</text>
<text font-size="6.9" fill="#1A1A1A" text-anchor="middle" stroke="#1A1A1A" stroke-width="0.1" transform="translate(116.60 162.50)">FFPE N</text>
<text font-size="6.9" fill="#1A1A1A" text-anchor="middle" stroke="#1A1A1A" stroke-width="0.1" transform="translate(172.90 162.50)">FFPE Q</text>
<text font-size="6.9" fill="#1A1A1A" text-anchor="middle" stroke="#1A1A1A" stroke-width="0.1" transform="translate(232.80 162.50)">FFPE R</text>
<rect x="368.30" y="155.4" width="61.80" height="9.0" fill="#fff" stroke="#333" stroke-width="0.7"/>
<rect x="430.10" y="155.4" width="62.30" height="9.0" fill="#fff" stroke="#333" stroke-width="0.7"/>
<rect x="492.40" y="155.4" width="62.30" height="9.0" fill="#fff" stroke="#333" stroke-width="0.7"/>
<rect x="554.70" y="155.4" width="62.70" height="9.0" fill="#fff" stroke="#333" stroke-width="0.7"/>
<text font-size="6.9" fill="#1A1A1A" text-anchor="middle" stroke="#1A1A1A" stroke-width="0.1" transform="translate(399.60 162.50)">FF</text>
<text font-size="6.9" fill="#1A1A1A" text-anchor="middle" stroke="#1A1A1A" stroke-width="0.1" transform="translate(463.00 162.50)">FFPE N</text>
<text font-size="6.9" fill="#1A1A1A" text-anchor="middle" stroke="#1A1A1A" stroke-width="0.1" transform="translate(526.00 162.50)">FFPE Q</text>
<text font-size="6.9" fill="#1A1A1A" text-anchor="middle" stroke="#1A1A1A" stroke-width="0.1" transform="translate(585.60 162.50)">FFPE R</text>
<text font-size="7.9" fill="#000" text-anchor="start" transform="translate(267.90 67.80)">Mapping</text>
<rect x="267.20" y="72.40" width="7.00" height="6.90" fill="#F8766D" stroke="#222" stroke-width="0.4"/>
<text font-size="6.3" fill="#000" text-anchor="start" transform="translate(278.60 78.05)">Uniquely mapped</text>
<rect x="267.20" y="79.30" width="7.00" height="6.90" fill="#A3A500" stroke="#222" stroke-width="0.4"/>
<text font-size="6.3" fill="#000" text-anchor="start" transform="translate(278.60 84.95)">Multimapped</text>
<rect x="267.20" y="86.20" width="7.00" height="6.90" fill="#00BF7D" stroke="#222" stroke-width="0.4"/>
<text font-size="6.3" fill="#000" text-anchor="start" transform="translate(278.60 91.85)">Multimapped too many</text>
<rect x="267.20" y="93.10" width="7.00" height="6.90" fill="#00B0F6" stroke="#222" stroke-width="0.4"/>
<text font-size="6.3" fill="#000" text-anchor="start" transform="translate(278.60 98.75)">Unmapped &#8722; too short</text>
<rect x="267.20" y="100.00" width="7.00" height="6.90" fill="#E76BF3" stroke="#222" stroke-width="0.4"/>
<text font-size="6.3" fill="#000" text-anchor="start" transform="translate(278.60 105.65)">Unmapped &#8722; other</text>
<text font-size="7.9" fill="#000" text-anchor="start" transform="translate(624.00 65.00)">Region</text>
<rect x="624.10" y="69.20" width="6.60" height="6.90" fill="#F8766D" stroke="#222" stroke-width="0.4"/>
<text font-size="6.3" fill="#000" text-anchor="start" transform="translate(635.00 74.85)">Exons &#8722; CDS</text>
<rect x="624.10" y="76.10" width="6.60" height="6.90" fill="#B79F00" stroke="#222" stroke-width="0.4"/>
<text font-size="6.3" fill="#000" text-anchor="start" transform="translate(635.00 81.75)">Exons &#8722; 3' UTR</text>
<rect x="624.10" y="83.00" width="6.60" height="6.90" fill="#00BA38" stroke="#222" stroke-width="0.4"/>
<text font-size="6.3" fill="#000" text-anchor="start" transform="translate(635.00 88.65)">Exons &#8722; 5' UTR</text>
<rect x="624.10" y="89.90" width="6.60" height="6.90" fill="#00BFC4" stroke="#222" stroke-width="0.4"/>
<text font-size="6.3" fill="#000" text-anchor="start" transform="translate(635.00 95.55)">Introns</text>
<rect x="624.10" y="96.80" width="6.60" height="6.90" fill="#619CFF" stroke="#222" stroke-width="0.4"/>
<text font-size="6.3" fill="#000" text-anchor="start" transform="translate(635.00 102.45)">TES &#8722; 10kb down</text>
<rect x="624.10" y="103.70" width="6.60" height="6.90" fill="#F564E3" stroke="#222" stroke-width="0.4"/>
<text font-size="6.3" fill="#000" text-anchor="start" transform="translate(635.00 109.35)">TSS &#8722; 10kb up</text>
<rect x="200.6" y="185.8" width="288.0" height="266.6" fill="none" stroke="#929296" stroke-width="0.9"/>
<line x1="201.00" y1="452.80" x2="201.00" y2="454.40" stroke="#333" stroke-width="0.6"/>
<text font-size="6.4" fill="#4D4D4D" text-anchor="middle" transform="translate(201.00 458.90) scale(0.93 1)">&#8722;200</text>
<line x1="295.20" y1="452.80" x2="295.20" y2="454.40" stroke="#333" stroke-width="0.6"/>
<text font-size="6.4" fill="#4D4D4D" text-anchor="middle" transform="translate(295.20 458.90) scale(0.93 1)">&#8722;100</text>
<line x1="389.30" y1="452.80" x2="389.30" y2="454.40" stroke="#333" stroke-width="0.6"/>
<text font-size="6.4" fill="#4D4D4D" text-anchor="middle" transform="translate(389.30 458.90) scale(0.93 1)">0</text>
<line x1="483.50" y1="452.80" x2="483.50" y2="454.40" stroke="#333" stroke-width="0.6"/>
<text font-size="6.4" fill="#4D4D4D" text-anchor="middle" transform="translate(483.50 458.90) scale(0.93 1)">100</text>
<line x1="198.60" y1="237.50" x2="200.20" y2="237.50" stroke="#333" stroke-width="0.6"/>
<text font-size="6.4" fill="#4D4D4D" text-anchor="end" transform="translate(197.80 239.80) scale(0.93 1)">50</text>
<line x1="198.60" y1="303.35" x2="200.20" y2="303.35" stroke="#333" stroke-width="0.6"/>
<text font-size="6.4" fill="#4D4D4D" text-anchor="end" transform="translate(197.80 305.65) scale(0.93 1)">0</text>
<line x1="198.60" y1="369.20" x2="200.20" y2="369.20" stroke="#333" stroke-width="0.6"/>
<text font-size="6.4" fill="#4D4D4D" text-anchor="end" transform="translate(197.80 371.50) scale(0.93 1)">&#8722;50</text>
<line x1="198.60" y1="435.00" x2="200.20" y2="435.00" stroke="#333" stroke-width="0.6"/>
<text font-size="6.4" fill="#4D4D4D" text-anchor="end" transform="translate(197.80 437.30) scale(0.93 1)">&#8722;100</text>
<text font-size="7.8" fill="#000" text-anchor="middle" transform="translate(344.30 466.30)">PC1: 24% variance</text>
<text font-size="7.8" fill="#000" text-anchor="middle" transform="translate(182.20 318.70) rotate(-90)">PC2: 13% variance</text>
<circle cx="443.50" cy="279.30" r="2.65" fill="#FFED6F" fill-opacity="0.87"/>
<circle cx="445.30" cy="280.80" r="2.65" fill="#FFED6F" fill-opacity="0.87"/>
<rect x="456.00" y="279.30" width="5.4" height="5.4" fill="#FFED6F" fill-opacity="0.87"/>
<path d="M463.00 281.40L465.70 284.10L463.00 286.80L460.30 284.10Z" fill="#FFED6F" fill-opacity="0.87"/>
<path d="M468.80 278.55L472.30 284.65L465.30 284.65Z" fill="#FFED6F" fill-opacity="0.87"/>
<rect x="457.70" y="286.60" width="5.4" height="5.4" fill="#FFED6F" fill-opacity="0.87"/>
<path d="M468.60 284.05L472.10 290.15L465.10 290.15Z" fill="#FFED6F" fill-opacity="0.87"/>
<path d="M461.00 284.30L463.70 287.00L461.00 289.70L458.30 287.00Z" fill="#FFED6F" fill-opacity="0.87"/>
<circle cx="443.60" cy="297.20" r="2.65" fill="#FCCDE5" fill-opacity="0.87"/>
<circle cx="441.20" cy="300.20" r="2.65" fill="#FCCDE5" fill-opacity="0.87"/>
<rect x="473.00" y="288.00" width="5.4" height="5.4" fill="#FCCDE5" fill-opacity="0.87"/>
<rect x="468.60" y="290.90" width="5.4" height="5.4" fill="#FCCDE5" fill-opacity="0.87"/>
<path d="M464.90 293.10L467.60 295.80L464.90 298.50L462.20 295.80Z" fill="#FCCDE5" fill-opacity="0.87"/>
<path d="M468.30 292.10L471.00 294.80L468.30 297.50L465.60 294.80Z" fill="#FCCDE5" fill-opacity="0.87"/>
<path d="M474.50 288.45L478.00 294.55L471.00 294.55Z" fill="#FCCDE5" fill-opacity="0.87"/>
<path d="M472.00 288.95L475.50 295.05L468.50 295.05Z" fill="#FCCDE5" fill-opacity="0.87"/>
<circle cx="408.50" cy="313.20" r="2.65" fill="#D9D9D9" fill-opacity="0.87"/>
<circle cx="410.70" cy="311.20" r="2.65" fill="#D9D9D9" fill-opacity="0.87"/>
<path d="M474.10 278.95L477.60 285.05L470.60 285.05Z" fill="#D9D9D9" fill-opacity="0.87"/>
<path d="M463.30 286.30L466.00 289.00L463.30 291.70L460.60 289.00Z" fill="#D9D9D9" fill-opacity="0.87"/>
<rect x="467.70" y="288.30" width="5.4" height="5.4" fill="#D9D9D9" fill-opacity="0.87"/>
<path d="M458.00 295.30L460.70 298.00L458.00 300.70L455.30 298.00Z" fill="#D9D9D9" fill-opacity="0.87"/>
<rect x="454.20" y="301.10" width="5.4" height="5.4" fill="#D9D9D9" fill-opacity="0.87"/>
<path d="M467.80 303.75L471.30 309.85L464.30 309.85Z" fill="#D9D9D9" fill-opacity="0.87"/>
<circle cx="213.20" cy="206.30" r="2.65" fill="#80B1D3" fill-opacity="0.87"/>
<circle cx="221.40" cy="202.40" r="2.65" fill="#80B1D3" fill-opacity="0.87"/>
<path d="M290.50 235.70L293.20 238.40L290.50 241.10L287.80 238.40Z" fill="#80B1D3" fill-opacity="0.87"/>
<path d="M290.90 243.60L293.60 246.30L290.90 249.00L288.20 246.30Z" fill="#80B1D3" fill-opacity="0.87"/>
<rect x="294.10" y="237.60" width="5.4" height="5.4" fill="#80B1D3" fill-opacity="0.87"/>
<rect x="299.50" y="239.50" width="5.4" height="5.4" fill="#80B1D3" fill-opacity="0.87"/>
<path d="M305.20 226.75L308.70 232.85L301.70 232.85Z" fill="#80B1D3" fill-opacity="0.87"/>
<path d="M310.00 224.95L313.50 231.05L306.50 231.05Z" fill="#80B1D3" fill-opacity="0.87"/>
<circle cx="361.30" cy="197.70" r="2.65" fill="#CCEBC5" fill-opacity="0.87"/>
<circle cx="361.00" cy="200.20" r="2.65" fill="#CCEBC5" fill-opacity="0.87"/>
<rect x="409.60" y="205.00" width="5.4" height="5.4" fill="#CCEBC5" fill-opacity="0.87"/>
<path d="M419.20 206.65L422.70 212.75L415.70 212.75Z" fill="#CCEBC5" fill-opacity="0.87"/>
<path d="M418.60 207.15L422.10 213.25L415.10 213.25Z" fill="#CCEBC5" fill-opacity="0.87"/>
<path d="M407.20 208.50L409.90 211.20L407.20 213.90L404.50 211.20Z" fill="#CCEBC5" fill-opacity="0.87"/>
<rect x="409.60" y="212.10" width="5.4" height="5.4" fill="#CCEBC5" fill-opacity="0.87"/>
<path d="M407.80 213.30L410.50 216.00L407.80 218.70L405.10 216.00Z" fill="#CCEBC5" fill-opacity="0.87"/>
<circle cx="353.50" cy="232.80" r="2.65" fill="#BC80BD" fill-opacity="0.87"/>
<circle cx="363.70" cy="230.40" r="2.65" fill="#BC80BD" fill-opacity="0.87"/>
<rect x="426.70" y="214.80" width="5.4" height="5.4" fill="#BC80BD" fill-opacity="0.87"/>
<path d="M419.50 222.30L422.20 225.00L419.50 227.70L416.80 225.00Z" fill="#BC80BD" fill-opacity="0.87"/>
<rect x="415.60" y="226.50" width="5.4" height="5.4" fill="#BC80BD" fill-opacity="0.87"/>
<path d="M429.40 224.15L432.90 230.25L425.90 230.25Z" fill="#BC80BD" fill-opacity="0.87"/>
<path d="M439.60 223.15L443.10 229.25L436.10 229.25Z" fill="#BC80BD" fill-opacity="0.87"/>
<path d="M426.70 233.10L429.40 235.80L426.70 238.50L424.00 235.80Z" fill="#BC80BD" fill-opacity="0.87"/>
<circle cx="391.70" cy="242.70" r="2.65" fill="#B3DE69" fill-opacity="0.87"/>
<circle cx="378.50" cy="256.90" r="2.65" fill="#B3DE69" fill-opacity="0.87"/>
<rect x="439.20" y="259.20" width="5.4" height="5.4" fill="#B3DE69" fill-opacity="0.87"/>
<rect x="440.90" y="260.50" width="5.4" height="5.4" fill="#B3DE69" fill-opacity="0.87"/>
<path d="M447.70 258.25L451.20 264.35L444.20 264.35Z" fill="#B3DE69" fill-opacity="0.87"/>
<path d="M446.50 260.95L450.00 267.05L443.00 267.05Z" fill="#B3DE69" fill-opacity="0.87"/>
<path d="M437.80 265.50L440.50 268.20L437.80 270.90L435.10 268.20Z" fill="#B3DE69" fill-opacity="0.87"/>
<path d="M444.30 263.10L447.00 265.80L444.30 268.50L441.60 265.80Z" fill="#B3DE69" fill-opacity="0.87"/>
<circle cx="232.50" cy="295.20" r="2.65" fill="#FFFFB3" fill-opacity="0.87"/>
<circle cx="239.70" cy="289.80" r="2.65" fill="#FFFFB3" fill-opacity="0.87"/>
<rect x="321.90" y="328.90" width="5.4" height="5.4" fill="#FFFFB3" fill-opacity="0.87"/>
<path d="M330.90 327.20L333.60 329.90L330.90 332.60L328.20 329.90Z" fill="#FFFFB3" fill-opacity="0.87"/>
<path d="M333.10 321.55L336.60 327.65L329.60 327.65Z" fill="#FFFFB3" fill-opacity="0.87"/>
<rect x="335.50" y="324.40" width="5.4" height="5.4" fill="#FFFFB3" fill-opacity="0.87"/>
<path d="M341.70 321.95L345.20 328.05L338.20 328.05Z" fill="#FFFFB3" fill-opacity="0.87"/>
<path d="M335.60 323.80L338.30 326.50L335.60 329.20L332.90 326.50Z" fill="#FFFFB3" fill-opacity="0.87"/>
<circle cx="282.40" cy="331.50" r="2.65" fill="#8DD3C7" fill-opacity="0.87"/>
<circle cx="286.90" cy="329.50" r="2.65" fill="#8DD3C7" fill-opacity="0.87"/>
<path d="M334.10 345.15L337.60 351.25L330.60 351.25Z" fill="#8DD3C7" fill-opacity="0.87"/>
<rect x="326.40" y="347.50" width="5.4" height="5.4" fill="#8DD3C7" fill-opacity="0.87"/>
<path d="M326.60 349.50L329.30 352.20L326.60 354.90L323.90 352.20Z" fill="#8DD3C7" fill-opacity="0.87"/>
<path d="M326.60 350.15L330.10 356.25L323.10 356.25Z" fill="#8DD3C7" fill-opacity="0.87"/>
<path d="M336.10 352.60L338.80 355.30L336.10 358.00L333.40 355.30Z" fill="#8DD3C7" fill-opacity="0.87"/>
<rect x="320.40" y="355.10" width="5.4" height="5.4" fill="#8DD3C7" fill-opacity="0.87"/>
<circle cx="314.90" cy="345.90" r="2.65" fill="#FB8072" fill-opacity="0.87"/>
<circle cx="301.10" cy="353.80" r="2.65" fill="#FB8072" fill-opacity="0.87"/>
<path d="M349.50 335.50L352.20 338.20L349.50 340.90L346.80 338.20Z" fill="#FB8072" fill-opacity="0.87"/>
<path d="M358.60 335.75L362.10 341.85L355.10 341.85Z" fill="#FB8072" fill-opacity="0.87"/>
<rect x="351.35" y="341.20" width="5.4" height="5.4" fill="#FB8072" fill-opacity="0.87"/>
<path d="M364.40 338.45L367.90 344.55L360.90 344.55Z" fill="#FB8072" fill-opacity="0.87"/>
<rect x="342.30" y="346.90" width="5.4" height="5.4" fill="#FB8072" fill-opacity="0.87"/>
<path d="M346.30 346.30L349.00 349.00L346.30 351.70L343.60 349.00Z" fill="#FB8072" fill-opacity="0.87"/>
<circle cx="385.30" cy="406.20" r="2.65" fill="#BEBADA" fill-opacity="0.87"/>
<circle cx="383.00" cy="408.10" r="2.65" fill="#BEBADA" fill-opacity="0.87"/>
<rect x="416.10" y="386.00" width="5.4" height="5.4" fill="#BEBADA" fill-opacity="0.87"/>
<path d="M416.40 391.70L419.10 394.40L416.40 397.10L413.70 394.40Z" fill="#BEBADA" fill-opacity="0.87"/>
<path d="M414.50 397.15L418.00 403.25L411.00 403.25Z" fill="#BEBADA" fill-opacity="0.87"/>
<rect x="424.90" y="379.10" width="5.4" height="5.4" fill="#BEBADA" fill-opacity="0.87"/>
<path d="M429.80 379.75L433.30 385.85L426.30 385.85Z" fill="#BEBADA" fill-opacity="0.87"/>
<path d="M426.00 381.80L428.70 384.50L426.00 387.20L423.30 384.50Z" fill="#BEBADA" fill-opacity="0.87"/>
<circle cx="376.50" cy="423.60" r="2.65" fill="#FDB462" fill-opacity="0.87"/>
<circle cx="373.30" cy="426.70" r="2.65" fill="#FDB462" fill-opacity="0.87"/>
<path d="M418.20 421.85L421.70 427.95L414.70 427.95Z" fill="#FDB462" fill-opacity="0.87"/>
<path d="M411.30 424.95L414.80 431.05L407.80 431.05Z" fill="#FDB462" fill-opacity="0.87"/>
<rect x="408.60" y="427.60" width="5.4" height="5.4" fill="#FDB462" fill-opacity="0.87"/>
<rect x="404.80" y="433.10" width="5.4" height="5.4" fill="#FDB462" fill-opacity="0.87"/>
<path d="M403.40 432.10L406.10 434.80L403.40 437.50L400.70 434.80Z" fill="#FDB462" fill-opacity="0.87"/>
<path d="M400.00 437.50L402.70 440.20L400.00 442.90L397.30 440.20Z" fill="#FDB462" fill-opacity="0.87"/>
<text font-size="6.2" fill="#000" text-anchor="start" font-weight="bold" transform="translate(492.70 254.80)">Kit</text>
<circle cx="495.9" cy="260.6" r="2.55" fill="#000"/>
<text font-size="6.0" fill="#000" text-anchor="start" transform="translate(503.00 262.80)">FF</text>
<path d="M495.9 264.3L499.05 269.8L492.75 269.8Z" fill="#000"/>
<text font-size="6.0" fill="#000" text-anchor="start" transform="translate(503.00 269.50)">N</text>
<rect x="493.45" y="272.1" width="4.9" height="4.9" fill="#000"/>
<text font-size="6.0" fill="#000" text-anchor="start" transform="translate(503.00 276.60)">Q</text>
<path d="M495.9 278.8L498.5 281.4L495.9 284.0L493.3 281.4Z" fill="#000"/>
<text font-size="6.0" fill="#000" text-anchor="start" transform="translate(503.00 283.60)">R</text>
<text font-size="6.0" fill="#000" text-anchor="start" font-weight="bold" transform="translate(492.10 298.40)">Cancer</text>
<rect x="491.7" y="300.30" width="9.8" height="9.16" fill="#F2F2F2"/>
<rect x="492.2" y="300.80" width="8.8" height="8.16" fill="#8DD3C7" fill-opacity="0.9"/>
<text font-size="6.0" fill="#000" text-anchor="start" transform="translate(503.00 307.08)">16H</text>
<rect x="491.7" y="309.46" width="9.8" height="9.16" fill="#F2F2F2"/>
<rect x="492.2" y="309.96" width="8.8" height="8.16" fill="#B3DE69" fill-opacity="0.9"/>
<text font-size="6.0" fill="#000" text-anchor="start" transform="translate(503.00 316.24)">16J</text>
<rect x="491.7" y="318.62" width="9.8" height="9.16" fill="#F2F2F2"/>
<rect x="492.2" y="319.12" width="8.8" height="8.16" fill="#FCCDE5" fill-opacity="0.9"/>
<text font-size="6.0" fill="#000" text-anchor="start" transform="translate(503.00 325.40)">16K</text>
<rect x="491.7" y="327.78" width="9.8" height="9.16" fill="#F2F2F2"/>
<rect x="492.2" y="328.28" width="8.8" height="8.16" fill="#FFFFB3" fill-opacity="0.9"/>
<text font-size="6.0" fill="#000" text-anchor="start" transform="translate(503.00 334.56)">16W</text>
<rect x="491.7" y="336.94" width="9.8" height="9.16" fill="#F2F2F2"/>
<rect x="492.2" y="337.44" width="8.8" height="8.16" fill="#BEBADA" fill-opacity="0.9"/>
<text font-size="6.0" fill="#000" text-anchor="start" transform="translate(503.00 343.72)">17E</text>
<rect x="491.7" y="346.10" width="9.8" height="9.16" fill="#F2F2F2"/>
<rect x="492.2" y="346.60" width="8.8" height="8.16" fill="#D9D9D9" fill-opacity="0.9"/>
<text font-size="6.0" fill="#000" text-anchor="start" transform="translate(503.00 352.88)">18Y</text>
<rect x="491.7" y="355.26" width="9.8" height="9.16" fill="#F2F2F2"/>
<rect x="492.2" y="355.76" width="8.8" height="8.16" fill="#BC80BD" fill-opacity="0.9"/>
<text font-size="6.0" fill="#000" text-anchor="start" transform="translate(503.00 362.04)">19A</text>
<rect x="491.7" y="364.42" width="9.8" height="9.16" fill="#F2F2F2"/>
<rect x="492.2" y="364.92" width="8.8" height="8.16" fill="#CCEBC5" fill-opacity="0.9"/>
<text font-size="6.0" fill="#000" text-anchor="start" transform="translate(503.00 371.20)">19D</text>
<rect x="491.7" y="373.58" width="9.8" height="9.16" fill="#F2F2F2"/>
<rect x="492.2" y="374.08" width="8.8" height="8.16" fill="#FFED6F" fill-opacity="0.9"/>
<text font-size="6.0" fill="#000" text-anchor="start" transform="translate(503.00 380.36)">19G</text>
<rect x="491.7" y="382.74" width="9.8" height="9.16" fill="#F2F2F2"/>
<rect x="492.2" y="383.24" width="8.8" height="8.16" fill="#FB8072" fill-opacity="0.9"/>
<text font-size="6.0" fill="#000" text-anchor="start" transform="translate(503.00 389.52)">19K</text>
<rect x="491.7" y="391.90" width="9.8" height="9.16" fill="#F2F2F2"/>
<rect x="492.2" y="392.40" width="8.8" height="8.16" fill="#80B1D3" fill-opacity="0.9"/>
<text font-size="6.0" fill="#000" text-anchor="start" transform="translate(503.00 398.68)">19M</text>
<rect x="491.7" y="401.06" width="9.8" height="9.16" fill="#F2F2F2"/>
<rect x="492.2" y="401.56" width="8.8" height="8.16" fill="#FDB462" fill-opacity="0.9"/>
<text font-size="6.0" fill="#000" text-anchor="start" transform="translate(503.00 407.84)">19O</text>
</svg>
</body></html>
